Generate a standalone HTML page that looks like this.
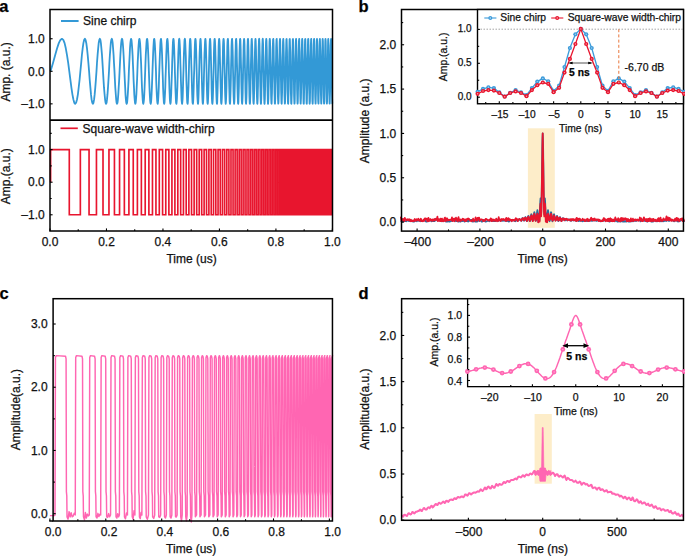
<!DOCTYPE html>
<html><head><meta charset="utf-8"><style>
html,body{margin:0;padding:0;background:#fff;width:685px;height:556px;overflow:hidden}
svg{display:block}
text{font-family:"Liberation Sans", sans-serif;stroke:#111;stroke-width:0.25px}
</style></head><body>
<svg width="685" height="556" viewBox="0 0 685 556">
<text x="-0.8" y="12.2" font-size="16.5" font-weight="bold" fill="#000" >a</text>
<polyline points="50.5,71.3 53.0,62.9 55.2,55.0 57.1,48.3 58.8,43.1 60.4,39.9 61.9,38.8 63.3,39.9 64.6,43.1 65.8,48.3 67.0,55.1 68.2,62.9 69.3,71.3 70.4,79.8 71.4,87.6 72.4,94.3 73.4,99.5 74.3,102.8 75.2,103.8 76.1,102.7 77.0,99.5 77.9,94.3 78.7,87.5 79.6,79.7 80.4,71.2 81.2,62.8 81.9,55.0 82.7,48.2 83.4,43.1 84.2,39.8 84.9,38.8 85.6,39.9 86.3,43.2 87.0,48.4 87.7,55.1 88.4,63.0 89.1,71.4 89.7,79.8 90.4,87.7 91.0,94.4 91.6,99.6 92.3,102.8 92.9,103.8 93.5,102.7 94.1,99.4 94.7,94.2 95.3,87.4 95.9,79.6 96.5,71.1 97.0,62.7 97.6,54.9 98.2,48.2 98.7,43.0 99.3,39.8 99.8,38.8 100.4,39.9 100.9,43.2 101.4,48.4 102.0,55.2 102.5,63.1 103.0,71.5 103.5,79.9 104.0,87.7 104.6,94.5 105.1,99.6 105.6,102.8 106.1,103.8 106.6,102.7 107.0,99.4 107.5,94.2 108.0,87.4 108.5,79.5 109.0,71.1 109.4,62.7 109.9,54.8 110.4,48.1 110.8,43.0 111.3,39.8 111.8,38.8 112.2,39.9 112.7,43.2 113.1,48.5 113.6,55.3 114.0,63.1 114.5,71.6 114.9,80.0 115.3,87.8 115.8,94.5 116.2,99.6 116.6,102.8 117.1,103.8 117.5,102.7 117.9,99.3 118.3,94.1 118.7,87.3 119.2,79.4 119.6,71.0 120.0,62.6 120.4,54.8 120.8,48.1 121.2,43.0 121.6,39.8 122.0,38.8 122.4,39.9 122.8,43.3 123.2,48.5 123.6,55.3 124.0,63.2 124.4,71.6 124.8,80.1 125.2,87.9 125.5,94.6 125.9,99.7 126.3,102.8 126.7,103.8 127.1,102.6 127.4,99.3 127.8,94.1 128.2,87.2 128.6,79.4 128.9,70.9 129.3,62.5 129.7,54.7 130.0,48.0 130.4,42.9 130.8,39.8 131.1,38.8 131.5,40.0 131.8,43.3 132.2,48.6 132.6,55.4 132.9,63.3 133.3,71.7 133.6,80.1 134.0,87.9 134.3,94.6 134.7,99.7 135.0,102.9 135.4,103.8 135.7,102.6 136.0,99.3 136.4,94.0 136.7,87.2 137.1,79.3 137.4,70.8 137.7,62.4 138.1,54.6 138.4,48.0 138.8,42.9 139.1,39.7 139.4,38.8 139.7,40.0 140.1,43.4 140.4,48.6 140.7,55.4 141.1,63.4 141.4,71.8 141.7,80.2 142.0,88.0 142.4,94.7 142.7,99.7 143.0,102.9 143.3,103.8 143.6,102.6 144.0,99.2 144.3,93.9 144.6,87.1 144.9,79.2 145.2,70.8 145.5,62.4 145.8,54.6 146.2,47.9 146.5,42.8 146.8,39.7 147.1,38.8 147.4,40.0 147.7,43.4 148.0,48.7 148.3,55.5 148.6,63.4 148.9,71.9 149.2,80.3 149.5,88.1 149.8,94.7 150.1,99.8 150.4,102.9 150.7,103.8 151.0,102.6 151.3,99.2 151.6,93.9 151.9,87.1 152.2,79.1 152.5,70.7 152.8,62.3 153.1,54.5 153.4,47.9 153.7,42.8 153.9,39.7 154.2,38.8 154.5,40.0 154.8,43.4 155.1,48.7 155.4,55.6 155.7,63.5 156.0,71.9 156.2,80.4 156.5,88.1 156.8,94.8 157.1,99.8 157.4,102.9 157.7,103.8 157.9,102.6 158.2,99.1 158.5,93.8 158.8,87.0 159.0,79.1 159.3,70.6 159.6,62.2 159.9,54.4 160.2,47.8 160.4,42.8 160.7,39.7 161.0,38.8 161.2,40.0 161.5,43.5 161.8,48.8 162.1,55.6 162.3,63.6 162.6,72.0 162.9,80.4 163.1,88.2 163.4,94.8 163.7,99.8 163.9,102.9 164.2,103.8 164.5,102.5 164.7,99.1 165.0,93.8 165.3,86.9 165.5,79.0 165.8,70.5 166.1,62.1 166.3,54.4 166.6,47.7 166.8,42.7 167.1,39.7 167.4,38.8 167.6,40.1 167.9,43.5 168.1,48.8 168.4,55.7 168.7,63.6 168.9,72.1 169.2,80.5 169.4,88.3 169.7,94.9 169.9,99.9 170.2,102.9 170.4,103.8 170.7,102.5 170.9,99.1 171.2,93.7 171.4,86.9 171.7,78.9 172.0,70.5 172.2,62.1 172.5,54.3 172.7,47.7 172.9,42.7 173.2,39.6 173.4,38.8 173.7,40.1 173.9,43.6 174.2,48.9 174.4,55.8 174.7,63.7 174.9,72.2 175.2,80.6 175.4,88.3 175.7,94.9 175.9,99.9 176.1,103.0 176.4,103.8 176.6,102.5 176.9,99.0 177.1,93.7 177.4,86.8 177.6,78.8 177.8,70.4 178.1,62.0 178.3,54.2 178.6,47.6 178.8,42.7 179.0,39.6 179.3,38.8 179.5,40.1 179.7,43.6 180.0,49.0 180.2,55.9 180.4,63.8 180.7,72.3 180.9,80.6 181.2,88.4 181.4,95.0 181.6,100.0 181.9,103.0 182.1,103.8 182.3,102.5 182.6,99.0 182.8,93.6 183.0,86.7 183.2,78.8 183.5,70.3 183.7,61.9 183.9,54.2 184.2,47.6 184.4,42.6 184.6,39.6 184.9,38.8 185.1,40.1 185.3,43.6 185.5,49.0 185.8,55.9 186.0,63.9 186.2,72.3 186.4,80.7 186.7,88.5 186.9,95.0 187.1,100.0 187.3,103.0 187.6,103.8 187.8,102.5 188.0,98.9 188.2,93.6 188.5,86.6 188.7,78.7 188.9,70.2 189.1,61.8 189.4,54.1 189.6,47.5 189.8,42.6 190.0,39.6 190.2,38.8 190.5,40.2 190.7,43.7 190.9,49.1 191.1,56.0 191.3,63.9 191.6,72.4 191.8,80.8 192.0,88.5 192.2,95.1 192.4,100.0 192.6,103.0 192.9,103.8 193.1,102.4 193.3,98.9 193.5,93.5 193.7,86.6 193.9,78.6 194.2,70.2 194.4,61.8 194.6,54.0 194.8,47.5 195.0,42.6 195.2,39.6 195.4,38.8 195.7,40.2 195.9,43.7 196.1,49.1 196.3,56.1 196.5,64.0 196.7,72.5 196.9,80.9 197.1,88.6 197.3,95.1 197.6,100.1 197.8,103.0 198.0,103.8 198.2,102.4 198.4,98.9 198.6,93.4 198.8,86.5 199.0,78.5 199.2,70.1 199.4,61.7 199.6,54.0 199.9,47.4 200.1,42.5 200.3,39.6 200.5,38.8 200.7,40.2 200.9,43.8 201.1,49.2 201.3,56.1 201.5,64.1 201.7,72.6 201.9,80.9 202.1,88.7 202.3,95.2 202.5,100.1 202.7,103.0 202.9,103.8 203.1,102.4 203.3,98.8 203.5,93.4 203.7,86.4 203.9,78.5 204.1,70.0 204.3,61.6 204.5,53.9 204.8,47.4 205.0,42.5 205.2,39.5 205.4,38.8 205.6,40.2 205.8,43.8 206.0,49.2 206.2,56.2 206.4,64.2 206.6,72.6 206.7,81.0 206.9,88.7 207.1,95.2 207.3,100.1 207.5,103.1 207.7,103.8 207.9,102.4 208.1,98.8 208.3,93.3 208.5,86.4 208.7,78.4 208.9,69.9 209.1,61.6 209.3,53.8 209.5,47.3 209.7,42.4 209.9,39.5 210.1,38.8 210.3,40.2 210.5,43.8 210.7,49.3 210.9,56.3 211.1,64.2 211.3,72.7 211.5,81.1 211.6,88.8 211.8,95.3 212.0,100.2 212.2,103.1 212.4,103.8 212.6,102.3 212.8,98.7 213.0,93.3 213.2,86.3 213.4,78.3 213.6,69.9 213.8,61.5 213.9,53.8 214.1,47.3 214.3,42.4 214.5,39.5 214.7,38.8 214.9,40.3 215.1,43.9 215.3,49.3 215.5,56.3 215.7,64.3 215.8,72.8 216.0,81.2 216.2,88.8 216.4,95.3 216.6,100.2 216.8,103.1 217.0,103.8 217.2,102.3 217.3,98.7 217.5,93.2 217.7,86.2 217.9,78.2 218.1,69.8 218.3,61.4 218.5,53.7 218.6,47.2 218.8,42.4 219.0,39.5 219.2,38.8 219.4,40.3 219.6,43.9 219.8,49.4 219.9,56.4 220.1,64.4 220.3,72.9 220.5,81.2 220.7,88.9 220.9,95.4 221.0,100.2 221.2,103.1 221.4,103.8 221.6,102.3 221.8,98.7 222.0,93.2 222.1,86.2 222.3,78.2 222.5,69.7 222.7,61.3 222.9,53.7 223.0,47.2 223.2,42.3 223.4,39.5 223.6,38.8 223.8,40.3 224.0,44.0 224.1,49.5 224.3,56.5 224.5,64.5 224.7,72.9 224.9,81.3 225.0,89.0 225.2,95.5 225.4,100.3 225.6,103.1 225.7,103.8 225.9,102.3 226.1,98.6 226.3,93.1 226.5,86.1 226.6,78.1 226.8,69.6 227.0,61.3 227.2,53.6 227.3,47.1 227.5,42.3 227.7,39.5 227.9,38.8 228.1,40.3 228.2,44.0 228.4,49.5 228.6,56.5 228.8,64.5 228.9,73.0 229.1,81.4 229.3,89.0 229.5,95.5 229.6,100.3 229.8,103.1 230.0,103.8 230.2,102.2 230.3,98.6 230.5,93.1 230.7,86.0 230.9,78.0 231.0,69.6 231.2,61.2 231.4,53.5 231.5,47.1 231.7,42.3 231.9,39.4 232.1,38.8 232.2,40.4 232.4,44.0 232.6,49.6 232.8,56.6 232.9,64.6 233.1,73.1 233.3,81.4 233.4,89.1 233.6,95.6 233.8,100.3 234.0,103.2 234.1,103.8 234.3,102.2 234.5,98.5 234.6,93.0 234.8,86.0 235.0,78.0 235.2,69.5 235.3,61.1 235.5,53.5 235.7,47.0 235.8,42.2 236.0,39.4 236.2,38.8 236.3,40.4 236.5,44.1 236.7,49.6 236.8,56.7 237.0,64.7 237.2,73.2 237.3,81.5 237.5,89.2 237.7,95.6 237.9,100.4 238.0,103.2 238.2,103.8 238.4,102.2 238.5,98.5 238.7,92.9 238.9,85.9 239.0,77.9 239.2,69.4 239.4,61.1 239.5,53.4 239.7,47.0 239.9,42.2 240.0,39.4 240.2,38.8 240.4,40.4 240.5,44.1 240.7,49.7 240.8,56.7 241.0,64.8 241.2,73.2 241.3,81.6 241.5,89.2 241.7,95.7 241.8,100.4 242.0,103.2 242.2,103.8 242.3,102.2 242.5,98.5 242.7,92.9 242.8,85.8 243.0,77.8 243.1,69.3 243.3,61.0 243.5,53.3 243.6,46.9 243.8,42.2 244.0,39.4 244.1,38.8 244.3,40.4 244.5,44.2 244.6,49.7 244.8,56.8 244.9,64.8 245.1,73.3 245.3,81.7 245.4,89.3 245.6,95.7 245.7,100.4 245.9,103.2 246.1,103.8 246.2,102.2 246.4,98.4 246.6,92.8 246.7,85.8 246.9,77.7 247.0,69.2 247.2,60.9 247.4,53.3 247.5,46.9 247.7,42.1 247.8,39.4 248.0,38.8 248.2,40.5 248.3,44.2 248.5,49.8 248.6,56.9 248.8,64.9 248.9,73.4 249.1,81.7 249.3,89.4 249.4,95.8 249.6,100.5 249.7,103.2 249.9,103.8 250.1,102.1 250.2,98.4 250.4,92.8 250.5,85.7 250.7,77.7 250.8,69.2 251.0,60.8 251.2,53.2 251.3,46.8 251.5,42.1 251.6,39.4 251.8,38.8 251.9,40.5 252.1,44.2 252.3,49.9 252.4,56.9 252.6,65.0 252.7,73.5 252.9,81.8 253.0,89.4 253.2,95.8 253.3,100.5 253.5,103.2 253.7,103.8 253.8,102.1 254.0,98.3 254.1,92.7 254.3,85.6 254.4,77.6 254.6,69.1 254.7,60.8 254.9,53.1 255.1,46.8 255.2,42.1 255.4,39.4 255.5,38.8 255.7,40.5 255.8,44.3 256.0,49.9 256.1,57.0 256.3,65.1 256.4,73.5 256.6,81.9 256.7,89.5 256.9,95.9 257.1,100.5 257.2,103.2 257.4,103.8 257.5,102.1 257.7,98.3 257.8,92.7 258.0,85.6 258.1,77.5 258.3,69.0 258.4,60.7 258.6,53.1 258.7,46.7 258.9,42.0 259.0,39.3 259.2,38.8 259.3,40.5 259.5,44.3 259.6,50.0 259.8,57.1 259.9,65.1 260.1,73.6 260.2,81.9 260.4,89.5 260.5,95.9 260.7,100.6 260.8,103.3 261.0,103.8 261.1,102.1 261.3,98.2 261.4,92.6 261.6,85.5 261.7,77.4 261.9,68.9 262.0,60.6 262.2,53.0 262.3,46.7 262.5,42.0 262.6,39.3 262.8,38.8 262.9,40.6 263.1,44.4 263.2,50.0 263.4,57.1 263.5,65.2 263.7,73.7 263.8,82.0 264.0,89.6 264.1,96.0 264.3,100.6 264.4,103.3 264.6,103.8 264.7,102.0 264.9,98.2 265.0,92.5 265.2,85.4 265.3,77.4 265.5,68.9 265.6,60.5 265.8,53.0 265.9,46.6 266.0,42.0 266.2,39.3 266.3,38.8 266.5,40.6 266.6,44.4 266.8,50.1 266.9,57.2 267.1,65.3 267.2,73.8 267.4,82.1 267.5,89.7 267.7,96.0 267.8,100.6 267.9,103.3 268.1,103.8 268.2,102.0 268.4,98.2 268.5,92.5 268.7,85.4 268.8,77.3 269.0,68.8 269.1,60.5 269.3,52.9 269.4,46.6 269.5,41.9 269.7,39.3 269.8,38.8 270.0,40.6 270.1,44.5 270.3,50.1 270.4,57.3 270.6,65.4 270.7,73.8 270.8,82.2 271.0,89.7 271.1,96.1 271.3,100.7 271.4,103.3 271.6,103.7 271.7,102.0 271.8,98.1 272.0,92.4 272.1,85.3 272.3,77.2 272.4,68.7 272.6,60.4 272.7,52.8 272.8,46.5 273.0,41.9 273.1,39.3 273.3,38.9 273.4,40.6 273.6,44.5 273.7,50.2 273.8,57.3 274.0,65.4 274.1,73.9 274.3,82.2 274.4,89.8 274.6,96.1 274.7,100.7 274.8,103.3 275.0,103.7 275.1,102.0 275.3,98.1 275.4,92.4 275.5,85.2 275.7,77.1 275.8,68.6 276.0,60.3 276.1,52.8 276.2,46.5 276.4,41.9 276.5,39.3 276.7,38.9 276.8,40.7 276.9,44.5 277.1,50.3 277.2,57.4 277.4,65.5 277.5,74.0 277.6,82.3 277.8,89.9 277.9,96.2 278.1,100.7 278.2,103.3 278.3,103.7 278.5,101.9 278.6,98.0 278.8,92.3 278.9,85.2 279.0,77.1 279.2,68.6 279.3,60.3 279.5,52.7 279.6,46.4 279.7,41.8 279.9,39.3 280.0,38.9 280.2,40.7 280.3,44.6 280.4,50.3 280.6,57.5 280.7,65.6 280.8,74.1 281.0,82.4 281.1,89.9 281.3,96.2 281.4,100.8 281.5,103.3 281.7,103.7 281.8,101.9 281.9,98.0 282.1,92.2 282.2,85.1 282.4,77.0 282.5,68.5 282.6,60.2 282.8,52.6 282.9,46.4 283.0,41.8 283.2,39.2 283.3,38.9 283.4,40.7 283.6,44.6 283.7,50.4 283.9,57.6 284.0,65.7 284.1,74.2 284.3,82.4 284.4,90.0 284.5,96.2 284.7,100.8 284.8,103.4 284.9,103.7 285.1,101.9 285.2,97.9 285.4,92.2 285.5,85.0 285.6,76.9 285.8,68.4 285.9,60.1 286.0,52.6 286.2,46.3 286.3,41.8 286.4,39.2 286.6,38.9 286.7,40.7 286.8,44.7 287.0,50.4 287.1,57.6 287.2,65.7 287.4,74.2 287.5,82.5 287.6,90.0 287.8,96.3 287.9,100.8 288.0,103.4 288.2,103.7 288.3,101.8 288.4,97.9 288.6,92.1 288.7,84.9 288.8,76.8 289.0,68.3 289.1,60.0 289.2,52.5 289.4,46.3 289.5,41.7 289.6,39.2 289.8,38.9 289.9,40.8 290.0,44.7 290.2,50.5 290.3,57.7 290.4,65.8 290.6,74.3 290.7,82.6 290.8,90.1 291.0,96.3 291.1,100.9 291.2,103.4 291.4,103.7 291.5,101.8 291.6,97.9 291.8,92.1 291.9,84.9 292.0,76.8 292.2,68.3 292.3,60.0 292.4,52.5 292.6,46.2 292.7,41.7 292.8,39.2 293.0,38.9 293.1,40.8 293.2,44.8 293.3,50.6 293.5,57.8 293.6,65.9 293.7,74.4 293.9,82.7 294.0,90.2 294.1,96.4 294.3,100.9 294.4,103.4 294.5,103.7 294.7,101.8 294.8,97.8 294.9,92.0 295.0,84.8 295.2,76.7 295.3,68.2 295.4,59.9 295.6,52.4 295.7,46.2 295.8,41.7 296.0,39.2 296.1,38.9 296.2,40.8 296.3,44.8 296.5,50.6 296.6,57.8 296.7,66.0 296.9,74.5 297.0,82.7 297.1,90.2 297.3,96.4 297.4,100.9 297.5,103.4 297.6,103.7 297.8,101.8 297.9,97.8 298.0,92.0 298.2,84.7 298.3,76.6 298.4,68.1 298.5,59.8 298.7,52.3 298.8,46.1 298.9,41.6 299.1,39.2 299.2,38.9 299.3,40.8 299.4,44.9 299.6,50.7 299.7,57.9 299.8,66.0 300.0,74.5 300.1,82.8 300.2,90.3 300.3,96.5 300.5,101.0 300.6,103.4 300.7,103.7 300.8,101.7 301.0,97.7 301.1,91.9 301.2,84.7 301.4,76.5 301.5,68.0 301.6,59.8 301.7,52.3 301.9,46.1 302.0,41.6 302.1,39.2 302.2,38.9 302.4,40.9 302.5,44.9 302.6,50.7 302.7,58.0 302.9,66.1 303.0,74.6 303.1,82.9 303.3,90.4 303.4,96.5 303.5,101.0 303.6,103.4 303.8,103.7 303.9,101.7 304.0,97.7 304.1,91.8 304.3,84.6 304.4,76.5 304.5,68.0 304.6,59.7 304.8,52.2 304.9,46.0 305.0,41.6 305.1,39.2 305.3,38.9 305.4,40.9 305.5,44.9 305.6,50.8 305.8,58.0 305.9,66.2 306.0,74.7 306.1,82.9 306.3,90.4 306.4,96.6 306.5,101.0 306.6,103.4 306.8,103.7 306.9,101.7 307.0,97.6 307.1,91.8 307.3,84.5 307.4,76.4 307.5,67.9 307.6,59.6 307.8,52.1 307.9,46.0 308.0,41.6 308.1,39.1 308.3,38.9 308.4,40.9 308.5,45.0 308.6,50.9 308.8,58.1 308.9,66.3 309.0,74.8 309.1,83.0 309.2,90.5 309.4,96.6 309.5,101.1 309.6,103.5 309.7,103.7 309.9,101.7 310.0,97.6 310.1,91.7 310.2,84.5 310.4,76.3 310.5,67.8 310.6,59.5 310.7,52.1 310.8,45.9 311.0,41.5 311.1,39.1 311.2,38.9 311.3,41.0 311.5,45.0 311.6,50.9 311.7,58.2 311.8,66.3 311.9,74.8 312.1,83.1 312.2,90.5 312.3,96.7 312.4,101.1 312.6,103.5 312.7,103.7 312.8,101.6 312.9,97.5 313.0,91.7 313.2,84.4 313.3,76.2 313.4,67.7 313.5,59.5 313.7,52.0 313.8,45.9 313.9,41.5 314.0,39.1 314.1,38.9 314.3,41.0 314.4,45.1 314.5,51.0 314.6,58.2 314.7,66.4 314.9,74.9 315.0,83.2 315.1,90.6 315.2,96.7 315.4,101.1 315.5,103.5 315.6,103.6 315.7,101.6 315.8,97.5 316.0,91.6 316.1,84.3 316.2,76.2 316.3,67.7 316.4,59.4 316.6,52.0 316.7,45.8 316.8,41.5 316.9,39.1 317.0,39.0 317.2,41.0 317.3,45.1 317.4,51.0 317.5,58.3 317.6,66.5 317.8,75.0 317.9,83.2 318.0,90.7 318.1,96.8 318.2,101.2 318.4,103.5 318.5,103.6 318.6,101.6 318.7,97.5 318.8,91.5 318.9,84.3 319.1,76.1 319.2,67.6 319.3,59.3 319.4,51.9 319.5,45.8 319.7,41.4 319.8,39.1 319.9,39.0 320.0,41.0 320.1,45.2 320.3,51.1 320.4,58.4 320.5,66.6 320.6,75.1 320.7,83.3 320.8,90.7 321.0,96.8 321.1,101.2 321.2,103.5 321.3,103.6 321.4,101.5 321.6,97.4 321.7,91.5 321.8,84.2 321.9,76.0 322.0,67.5 322.1,59.3 322.3,51.8 322.4,45.8 322.5,41.4 322.6,39.1 322.7,39.0 322.9,41.1 323.0,45.2 323.1,51.1 323.2,58.5 323.3,66.6 323.4,75.1 323.6,83.4 323.7,90.8 323.8,96.9 323.9,101.2 324.0,103.5 324.1,103.6 324.3,101.5 324.4,97.4 324.5,91.4 324.6,84.1 324.7,75.9 324.8,67.4 325.0,59.2 325.1,51.8 325.2,45.7 325.3,41.4 325.4,39.1 325.5,39.0 325.7,41.1 325.8,45.3 325.9,51.2 326.0,58.5 326.1,66.7 326.2,75.2 326.4,83.4 326.5,90.8 326.6,96.9 326.7,101.2 326.8,103.5 326.9,103.6 327.1,101.5 327.2,97.3 327.3,91.4 327.4,84.0 327.5,75.9 327.6,67.4 327.8,59.1 327.9,51.7 328.0,45.7 328.1,41.3 328.2,39.1 328.3,39.0 328.4,41.1 328.6,45.3 328.7,51.3 328.8,58.6 328.9,66.8 329.0,75.3 329.1,83.5 329.2,90.9 329.4,97.0 329.5,101.3 329.6,103.5 329.7,103.6 329.8,101.5 329.9,97.3 330.1,91.3 330.2,84.0 330.3,75.8 330.4,67.3 330.5,59.1 330.6,51.7 330.7,45.6 330.9,41.3 331.0,39.1 331.1,39.0 331.2,41.1 331.3,45.4 331.4,51.3 331.5,58.7 331.7,66.9 331.8,75.4 331.9,83.6 332.0,91.0 332.1,97.0 332.2,101.3 332.3,103.5 332.4,103.6" fill="none" stroke="#3399d6" stroke-width="1.8" stroke-linejoin="round" />
<polyline points="50.60,182.20 50.60,149.62 69.29,149.62 69.29,214.78 80.35,214.78 80.35,149.62 89.05,149.62 89.05,214.78 96.45,214.78 96.45,149.62 103.01,149.62 103.01,214.78 108.96,214.78 108.96,149.62 114.44,149.62 114.44,214.78 119.55,214.78 119.55,149.62 124.36,149.62 124.36,214.78 128.91,214.78 128.91,149.62 133.25,149.62 133.25,214.78 137.39,214.78 137.39,149.62 141.37,149.62 141.37,214.78 145.20,214.78 145.20,149.62 148.89,149.62 148.89,214.78 152.47,214.78 152.47,149.62 155.94,149.62 155.94,214.78 159.30,214.78 159.30,149.62 162.58,149.62 162.58,214.78 165.77,214.78 165.77,149.62 168.88,149.62 168.88,214.78 171.93,214.78 171.93,149.62 174.90,149.62 174.90,214.78 177.81,214.78 177.81,149.62 180.66,149.62 180.66,214.78 183.45,214.78 183.45,149.62 186.19,149.62 186.19,214.78 188.88,214.78 188.88,149.62 191.53,149.62 191.53,214.78 194.13,214.78 194.13,149.62 196.68,149.62 196.68,214.78 199.20,214.78 199.20,149.62 201.68,149.62 201.68,214.78 204.12,214.78 204.12,149.62 206.52,149.62 206.52,214.78 208.89,214.78 208.89,149.62 211.23,149.62 211.23,214.78 213.53,214.78 213.53,149.62 215.81,149.62 215.81,214.78 218.06,214.78 218.06,149.62 220.28,149.62 220.28,214.78 222.47,214.78 222.47,149.62 224.64,149.62 224.64,214.78 226.78,214.78 226.78,149.62 228.90,149.62 228.90,214.78 230.99,214.78 230.99,149.62 233.06,149.62 233.06,214.78 235.12,214.78 235.12,149.62 237.14,149.62 237.14,214.78 239.15,214.78 239.15,149.62 241.14,149.62 241.14,214.78 243.11,214.78 243.11,149.62 245.06,149.62 245.06,214.78 246.99,214.78 246.99,149.62 248.91,149.62 248.91,214.78 250.81,214.78 250.81,149.62 252.69,149.62 252.69,214.78 254.55,214.78 254.55,149.62 256.40,149.62 256.40,214.78 258.23,214.78 258.23,149.62 260.05,149.62 260.05,214.78 261.85,214.78 261.85,149.62 263.64,149.62 263.64,214.78 265.41,214.78 265.41,149.62 267.17,149.62 267.17,214.78 268.92,214.78 268.92,149.62 270.65,149.62 270.65,214.78 272.38,214.78 272.38,149.62 274.08,149.62 274.08,214.78 275.78,214.78 275.78,149.62 277.46,149.62 277.46,214.78 279.14,214.78 279.14,149.62 280.80,149.62 280.80,214.78 282.45,214.78 282.45,149.62 284.08,149.62 284.08,214.78 285.71,214.78 285.71,149.62 287.33,149.62 287.33,214.78 288.93,214.78 288.93,149.62 290.53,149.62 290.53,214.78 292.12,214.78 292.12,149.62 293.69,149.62 293.69,214.78 295.26,214.78 295.26,149.62 296.82,149.62 296.82,214.78 298.36,214.78 298.36,149.62 299.90,149.62 299.90,214.78 301.43,214.78 301.43,149.62 302.95,149.62 302.95,214.78 304.46,214.78 304.46,149.62 305.97,149.62 305.97,214.78 307.46,214.78 307.46,149.62 308.95,149.62 308.95,214.78 310.43,214.78 310.43,149.62 311.90,149.62 311.90,214.78 313.36,214.78 313.36,149.62 314.82,149.62 314.82,214.78 316.26,214.78 316.26,149.62 317.70,149.62 317.70,214.78 319.14,214.78 319.14,149.62 320.56,149.62 320.56,214.78 321.98,214.78 321.98,149.62 323.39,149.62 323.39,214.78 324.79,214.78 324.79,149.62 326.19,149.62 326.19,214.78 327.58,214.78 327.58,149.62 328.96,149.62 328.96,214.78 330.34,214.78 330.34,149.62 331.71,149.62 331.71,214.78 332.45,214.78" fill="none" stroke="#e8152e" stroke-width="1.65" stroke-linejoin="miter" />
<rect x="50" y="9.5" width="282.5" height="221.5" fill="none" stroke="#000" stroke-width="1.5"/>
<line x1="50" y1="120.1" x2="332.5" y2="120.1" stroke="#000" stroke-width="1.6" />
<line x1="61" y1="21" x2="78.6" y2="21" stroke="#3399d6" stroke-width="2" />
<text x="83.1" y="25.1" font-size="12" fill="#111" >Sine chirp</text>
<line x1="60.5" y1="128.3" x2="77.8" y2="128.3" stroke="#e8152e" stroke-width="1.7" />
<text x="82.6" y="132.6" font-size="12" fill="#111" >Square-wave width-chirp</text>
<line x1="50" y1="38.75" x2="52.6" y2="38.75" stroke="#000" stroke-width="1.1" />
<line x1="50" y1="71.3" x2="52.6" y2="71.3" stroke="#000" stroke-width="1.1" />
<line x1="50" y1="103.85" x2="52.6" y2="103.85" stroke="#000" stroke-width="1.1" />
<text x="44.7" y="42.95" font-size="12" text-anchor="end" fill="#111" >1.0</text>
<text x="44.7" y="75.5" font-size="12" text-anchor="end" fill="#111" >0.0</text>
<text x="44.7" y="108.05" font-size="12" text-anchor="end" fill="#111" >–1.0</text>
<line x1="50" y1="149.62" x2="52.6" y2="149.62" stroke="#000" stroke-width="1.1" />
<line x1="50" y1="182.2" x2="52.6" y2="182.2" stroke="#000" stroke-width="1.1" />
<line x1="50" y1="214.78" x2="52.6" y2="214.78" stroke="#000" stroke-width="1.1" />
<line x1="50" y1="133.33" x2="51.7" y2="133.33" stroke="#000" stroke-width="1.1" />
<line x1="50" y1="165.91" x2="51.7" y2="165.91" stroke="#000" stroke-width="1.1" />
<line x1="50" y1="198.49" x2="51.7" y2="198.49" stroke="#000" stroke-width="1.1" />
<text x="44.7" y="153.82" font-size="12" text-anchor="end" fill="#111" >1.0</text>
<text x="44.7" y="186.4" font-size="12" text-anchor="end" fill="#111" >0.0</text>
<text x="44.7" y="218.98" font-size="12" text-anchor="end" fill="#111" >–1.0</text>
<line x1="50" y1="231" x2="50" y2="228.4" stroke="#000" stroke-width="1.1" />
<line x1="106.48" y1="231" x2="106.48" y2="228.4" stroke="#000" stroke-width="1.1" />
<line x1="162.96" y1="231" x2="162.96" y2="228.4" stroke="#000" stroke-width="1.1" />
<line x1="219.44" y1="231" x2="219.44" y2="228.4" stroke="#000" stroke-width="1.1" />
<line x1="275.92" y1="231" x2="275.92" y2="228.4" stroke="#000" stroke-width="1.1" />
<line x1="332.4" y1="231" x2="332.4" y2="228.4" stroke="#000" stroke-width="1.1" />
<line x1="78.24" y1="231" x2="78.24" y2="229.3" stroke="#000" stroke-width="1.1" />
<line x1="134.72" y1="231" x2="134.72" y2="229.3" stroke="#000" stroke-width="1.1" />
<line x1="191.2" y1="231" x2="191.2" y2="229.3" stroke="#000" stroke-width="1.1" />
<line x1="247.68" y1="231" x2="247.68" y2="229.3" stroke="#000" stroke-width="1.1" />
<line x1="304.16" y1="231" x2="304.16" y2="229.3" stroke="#000" stroke-width="1.1" />
<text x="50" y="245.6" font-size="12" text-anchor="middle" fill="#111" >0.0</text>
<text x="106.48" y="245.6" font-size="12" text-anchor="middle" fill="#111" >0.2</text>
<text x="162.96" y="245.6" font-size="12" text-anchor="middle" fill="#111" >0.4</text>
<text x="219.44" y="245.6" font-size="12" text-anchor="middle" fill="#111" >0.6</text>
<text x="275.92" y="245.6" font-size="12" text-anchor="middle" fill="#111" >0.8</text>
<text x="332.4" y="245.6" font-size="12" text-anchor="middle" fill="#111" >1.0</text>
<text x="191.6" y="263" font-size="12" text-anchor="middle" fill="#111" >Time (us)</text>
<text transform="translate(9.9,71.9) rotate(-90)" font-size="12" text-anchor="middle" fill="#111" >Amp. (a.u.)</text>
<text transform="translate(9.9,176.2) rotate(-90)" font-size="12" text-anchor="middle" fill="#111" >Amp.(a.u.)</text>
<text x="358.4" y="12.2" font-size="16.5" font-weight="bold" fill="#000" >b</text>
<rect x="527.9" y="128.3" width="26.9" height="99.5" fill="#fdedc9"/>
<polyline points="400.8,220.9 401.3,221.4 401.8,220.9 402.3,221.7 402.8,220.8 403.3,221.0 403.8,221.1 404.3,221.2 404.8,221.1 405.3,221.0 405.8,221.2 406.3,221.3 406.8,220.7 407.3,220.7 407.8,220.2 408.3,220.8 408.8,221.1 409.3,220.6 409.8,220.5 410.3,221.2 410.8,220.9 411.3,220.3 411.8,221.2 412.3,221.4 412.8,221.2 413.3,221.7 413.8,221.7 414.3,221.7 414.8,220.8 415.3,220.3 415.8,220.3 416.3,220.7 416.8,221.3 417.4,220.5 417.9,220.2 418.4,220.8 418.9,220.5 419.4,220.8 419.9,220.7 420.4,220.9 420.9,221.3 421.4,220.5 421.9,221.0 422.4,221.1 422.9,221.0 423.4,220.6 423.9,220.5 424.4,220.4 424.9,220.0 425.4,220.5 425.9,221.5 426.4,221.7 426.9,221.6 427.4,221.2 427.9,221.5 428.4,221.3 428.9,220.5 429.4,219.8 429.9,219.4 430.4,220.0 430.9,220.9 431.4,221.1 431.9,221.4 432.4,220.6 432.9,220.6 433.4,221.1 433.9,221.0 434.4,221.1 434.9,220.9 435.4,219.6 435.9,218.7 436.4,219.5 436.9,220.0 437.4,220.6 437.9,220.5 438.5,219.8 439.0,220.5 439.5,220.7 440.0,220.7 440.5,220.5 441.0,220.6 441.5,220.8 442.0,221.4 442.5,220.9 443.0,220.3 443.5,221.2 444.0,221.1 444.5,220.1 445.0,220.2 445.5,220.6 446.0,221.7 446.5,221.4 447.0,221.7 447.5,221.6 448.0,220.7 448.5,220.4 449.0,221.6 449.5,221.7 450.0,221.4 450.5,221.3 451.0,221.1 451.5,219.8 452.0,220.2 452.5,221.0 453.0,220.7 453.5,219.3 454.0,219.3 454.5,220.5 455.0,220.5 455.5,220.3 456.0,221.3 456.5,221.1 457.0,220.4 457.5,221.0 458.0,221.5 458.5,221.7 459.1,221.4 459.6,220.8 460.1,221.4 460.6,221.6 461.1,221.1 461.6,220.0 462.1,220.5 462.6,221.1 463.1,220.8 463.6,220.6 464.1,221.0 464.6,221.7 465.1,221.1 465.6,220.8 466.1,220.7 466.6,221.2 467.1,220.7 467.6,221.2 468.1,221.6 468.6,220.6 469.1,220.8 469.6,220.8 470.1,220.6 470.6,220.1 471.1,219.8 471.6,219.9 472.1,220.6 472.6,221.6 473.1,221.7 473.6,221.3 474.1,221.3 474.6,220.8 475.1,221.0 475.6,221.6 476.1,221.7 476.6,221.6 477.1,221.6 477.6,221.0 478.1,220.3 478.6,220.2 479.1,221.2 479.6,221.0 480.2,220.0 480.7,220.1 481.2,221.0 481.7,221.6 482.2,221.7 482.7,221.1 483.2,220.8 483.7,219.9 484.2,220.4 484.7,220.9 485.2,221.6 485.7,221.6 486.2,221.5 486.7,221.4 487.2,221.0 487.7,220.7 488.2,220.5 488.7,220.5 489.2,221.3 489.7,220.9 490.2,220.4 490.7,220.0 491.2,220.6 491.7,220.9 492.2,221.2 492.7,220.7 493.2,220.7 493.7,221.2 494.2,221.2 494.7,220.9 495.2,220.8 495.7,221.2 496.2,220.7 496.7,220.5 497.2,219.6 497.7,219.8 498.2,220.9 498.7,220.8 499.2,219.5 499.7,219.9 500.2,220.5 500.7,221.0 501.3,220.8 501.8,220.3 502.3,220.5 502.8,220.9 503.3,220.3 503.8,220.6 504.3,220.8 504.8,220.5 505.3,220.6 505.8,220.6 506.3,220.9 506.8,221.1 507.3,220.6 507.8,220.6 508.3,221.1 508.8,221.6 509.3,221.5 509.8,220.9 510.3,220.3 510.8,220.2 511.3,220.3 511.8,220.9 512.3,219.9 512.8,219.9 513.3,219.9 513.8,220.1 514.3,221.0 514.8,221.0 515.3,221.3 515.8,220.2 516.3,219.4 516.8,219.7 517.3,220.8 517.8,220.6 518.3,220.6 518.8,219.8 519.3,218.8 519.8,219.3 520.3,220.1 520.8,220.3 521.3,220.9 521.9,219.1 522.4,218.0 522.9,218.7 523.4,220.5 523.9,219.9 524.0,220.3 524.2,220.6 524.3,220.7 524.5,220.1 524.6,219.4 524.8,218.6 525.0,217.9 525.1,217.4 525.3,217.1 525.4,217.0 525.6,217.2 525.7,217.6 525.9,218.2 526.1,218.9 526.2,219.7 526.4,220.4 526.5,220.2 526.7,220.7 526.8,220.8 527.0,220.7 527.2,221.1 527.3,220.5 527.5,219.7 527.6,218.7 527.8,217.8 527.9,216.9 528.1,216.3 528.3,215.9 528.4,215.8 528.6,216.0 528.7,216.5 528.9,217.3 529.0,218.2 529.2,219.2 529.4,220.1 529.5,220.8 529.7,220.6 529.8,220.7 530.0,221.2 530.1,220.0 530.3,220.2 530.5,219.1 530.6,218.0 530.8,216.8 530.9,215.7 531.1,214.8 531.2,214.3 531.4,214.2 531.6,214.5 531.7,215.1 531.9,216.1 532.0,217.3 532.2,218.5 532.3,219.7 532.5,220.7 532.7,221.1 532.8,220.9 533.0,220.2 533.1,220.5 533.3,219.8 533.4,218.5 533.6,217.0 533.8,215.5 533.9,214.1 534.1,213.0 534.2,212.4 534.4,212.2 534.5,212.5 534.7,213.4 534.9,214.6 535.0,216.1 535.2,217.7 535.3,219.2 535.5,220.5 535.6,220.7 535.8,220.6 535.9,220.8 536.1,220.6 536.3,219.3 536.4,217.6 536.6,215.7 536.7,215.9 536.9,214.0 537.0,212.2 537.2,211.1 537.4,210.0 537.5,210.6 537.7,211.1 537.8,213.9 538.0,216.8 538.1,219.4 538.3,222.1 538.5,219.7 538.6,217.2 538.8,215.4 538.9,213.7 539.1,215.2 539.2,216.8 539.4,218.6 539.6,220.3 539.7,215.7 539.9,211.1 540.0,206.8 540.2,202.6 540.3,200.5 540.5,198.3 540.7,200.2 540.8,202.1 541.0,208.4 541.1,214.7 541.3,211.3 541.4,207.9 541.6,195.7 541.8,183.4 541.9,170.9 542.1,158.4 542.2,149.5 542.4,140.5 542.5,137.0 542.7,133.4 542.9,137.0 543.0,140.5 543.2,149.5 543.3,158.4 543.5,170.9 543.6,183.4 543.8,195.7 544.0,207.9 544.1,211.3 544.3,214.7 544.4,208.4 544.6,202.1 544.7,200.2 544.9,198.3 545.1,200.5 545.2,202.6 545.4,206.8 545.5,211.1 545.7,215.7 545.8,220.3 546.0,218.6 546.2,216.8 546.3,215.2 546.5,213.7 546.6,215.4 546.8,217.2 546.9,219.7 547.1,222.1 547.3,219.4 547.4,216.8 547.6,213.9 547.7,211.1 547.9,210.6 548.0,210.0 548.2,211.1 548.4,212.2 548.5,214.0 548.7,215.9 548.8,215.7 549.0,217.6 549.1,219.3 549.3,220.6 549.5,221.3 549.6,220.5 549.8,220.5 549.9,220.5 550.1,219.2 550.2,217.7 550.4,216.1 550.6,214.6 550.7,213.4 550.9,212.5 551.0,212.2 551.2,212.4 551.3,213.0 551.5,214.1 551.6,215.5 551.8,217.0 552.0,218.5 552.1,219.8 552.3,220.8 552.4,221.5 552.6,221.0 552.7,220.2 552.9,220.1 553.1,219.7 553.2,218.5 553.4,217.3 553.5,216.1 553.7,215.1 553.8,214.5 554.0,214.2 554.2,214.3 554.3,214.8 554.5,215.7 554.6,216.8 554.8,218.0 554.9,219.1 555.1,220.2 555.3,219.3 555.4,219.1 555.6,220.2 555.7,220.4 555.9,220.0 556.0,220.0 556.2,219.2 556.4,218.2 556.5,217.3 556.7,216.5 556.8,216.0 557.0,215.8 557.1,215.9 557.3,216.3 557.5,216.9 557.6,217.8 557.8,218.7 557.9,219.7 558.1,220.5 558.2,221.1 558.4,220.9 558.6,220.4 558.7,220.0 558.9,220.4 559.0,220.4 559.2,219.7 559.3,218.9 559.5,218.2 559.7,217.6 559.8,217.2 560.0,217.0 560.1,217.1 560.3,217.4 560.4,217.9 560.6,218.6 560.8,219.4 560.9,220.1 561.1,220.7 561.2,220.8 561.4,219.7 561.5,219.6 562.0,220.6 562.5,218.7 563.0,218.0 563.5,219.1 564.1,219.4 564.6,220.1 565.1,220.5 565.6,219.3 566.1,218.8 566.6,219.8 567.1,220.3 567.6,220.4 568.1,219.4 568.6,219.7 569.1,219.4 569.6,220.2 570.1,220.7 570.6,220.2 571.1,220.9 571.6,220.1 572.1,219.9 572.6,220.2 573.1,220.4 573.6,220.2 574.1,220.3 574.6,220.4 575.1,220.3 575.6,220.3 576.1,221.0 576.6,219.9 577.1,218.7 577.6,220.1 578.1,220.6 578.6,221.1 579.1,220.8 579.6,220.8 580.1,220.4 580.6,220.8 581.1,220.8 581.6,220.4 582.1,220.8 582.6,221.3 583.1,221.1 583.6,221.0 584.1,220.7 584.7,220.7 585.2,220.8 585.7,220.7 586.2,221.1 586.7,220.8 587.2,221.2 587.7,220.2 588.2,220.4 588.7,220.9 589.2,221.1 589.7,220.6 590.2,220.7 590.7,220.6 591.2,220.3 591.7,220.8 592.2,220.8 592.7,220.3 593.2,220.1 593.7,220.5 594.2,220.6 594.7,220.5 595.2,220.0 595.7,219.9 596.2,220.9 596.7,221.0 597.2,220.6 597.7,220.1 598.2,219.8 598.7,220.4 599.2,220.4 599.7,220.3 600.2,221.3 600.7,221.5 601.2,221.1 601.7,220.8 602.2,220.7 602.7,220.6 603.2,220.0 603.7,220.8 604.2,220.7 604.7,220.0 605.2,220.1 605.8,220.5 606.3,220.3 606.8,220.2 607.3,220.4 607.8,220.5 608.3,221.1 608.8,221.2 609.3,221.7 609.8,221.6 610.3,221.3 610.8,220.4 611.3,220.7 611.8,220.8 612.3,221.2 612.8,221.1 613.3,221.1 613.8,221.1 614.3,220.8 614.8,221.3 615.3,220.2 615.8,219.4 616.3,220.7 616.8,221.2 617.3,221.6 617.8,221.4 618.3,221.6 618.8,220.9 619.3,221.3 619.8,221.6 620.3,221.6 620.8,221.7 621.3,221.1 621.8,220.5 622.3,221.1 622.8,221.6 623.3,221.5 623.8,221.4 624.3,221.7 624.8,220.9 625.3,221.0 625.8,221.6 626.3,221.0 626.9,221.5 627.4,221.0 627.9,220.6 628.4,221.6 628.9,221.6 629.4,221.6 629.9,221.7 630.4,221.2 630.9,221.2 631.4,221.3 631.9,221.2 632.4,221.2 632.9,221.3 633.4,220.8 633.9,221.0 634.4,221.0 634.9,220.3 635.4,221.0 635.9,220.8 636.4,221.0 636.9,220.7 637.4,220.3 637.9,220.0 638.4,220.0 638.9,220.4 639.4,219.3 639.9,220.2 640.4,221.4 640.9,221.2 641.4,219.5 641.9,219.4 642.4,220.3 642.9,220.1 643.4,219.9 643.9,220.6 644.4,221.0 644.9,220.7 645.4,220.4 645.9,220.8 646.4,221.3 646.9,221.0 647.5,221.7 648.0,221.3 648.5,220.2 649.0,220.4 649.5,220.6 650.0,220.5 650.5,220.2 651.0,221.0 651.5,221.7 652.0,221.7 652.5,221.7 653.0,221.7 653.5,220.2 654.0,220.0 654.5,220.8 655.0,220.9 655.5,220.6 656.0,220.4 656.5,221.2 657.0,221.5 657.5,221.3 658.0,220.8 658.5,220.7 659.0,220.8 659.5,220.7 660.0,221.2 660.5,221.2 661.0,221.4 661.5,221.2 662.0,220.4 662.5,220.9 663.0,221.4 663.5,221.2 664.0,221.2 664.5,220.5 665.0,220.0 665.5,220.3 666.0,221.2 666.5,220.7 667.0,219.9 667.5,220.3 668.0,219.8 668.6,220.0 669.1,221.0 669.6,220.2 670.1,220.0 670.6,219.8 671.1,219.6 671.6,220.2 672.1,220.5 672.6,220.5 673.1,220.8 673.6,221.0 674.1,221.4 674.6,220.3 675.1,220.6 675.6,220.5 676.1,220.5 676.6,220.6 677.1,220.7 677.6,221.1 678.1,221.7 678.6,221.2 679.1,220.5 679.6,221.3 680.1,221.1 680.6,219.6 681.1,219.4 681.6,219.7 682.1,220.4 682.6,220.5 683.1,220.2 683.6,220.4 684.1,221.0 684.6,221.7" fill="none" stroke="#2b6c9e" stroke-width="1.7" stroke-linejoin="round" />
<polyline points="400.8,216.7 401.3,220.5 401.8,220.3 402.3,220.5 402.8,218.8 403.3,220.0 403.8,219.2 404.3,221.2 404.8,217.9 405.3,219.4 405.8,219.2 406.3,220.1 406.8,220.4 407.3,219.5 407.8,219.1 408.3,220.2 408.8,220.1 409.3,219.3 409.8,220.7 410.3,221.2 410.8,219.6 411.3,220.7 411.8,221.2 412.3,220.9 412.8,220.5 413.3,221.2 413.8,221.2 414.3,219.9 414.8,219.0 415.3,220.2 415.8,220.8 416.3,219.6 416.8,219.2 417.4,220.3 417.9,219.4 418.4,218.8 418.9,220.2 419.4,220.8 419.9,219.6 420.4,219.7 420.9,218.8 421.4,221.2 421.9,220.7 422.4,220.9 422.9,221.2 423.4,219.9 423.9,219.4 424.4,220.7 424.9,218.5 425.4,219.0 425.9,218.4 426.4,219.5 426.9,219.0 427.4,221.2 427.9,219.3 428.4,217.8 428.9,221.2 429.4,219.6 429.9,220.2 430.4,219.1 430.9,220.4 431.4,220.0 431.9,219.6 432.4,220.9 432.9,219.3 433.4,220.1 433.9,219.5 434.4,220.5 434.9,218.8 435.4,219.3 435.9,220.1 436.4,219.3 436.9,218.6 437.4,216.6 437.9,221.2 438.5,219.0 439.0,219.5 439.5,220.1 440.0,221.0 440.5,218.7 441.0,221.2 441.5,219.4 442.0,218.6 442.5,221.2 443.0,220.4 443.5,221.2 444.0,219.7 444.5,218.3 445.0,217.6 445.5,221.2 446.0,220.6 446.5,219.2 447.0,218.2 447.5,219.5 448.0,220.5 448.5,219.7 449.0,220.0 449.5,220.2 450.0,219.7 450.5,219.6 451.0,219.6 451.5,220.1 452.0,217.5 452.5,221.2 453.0,219.4 453.5,218.7 454.0,220.2 454.5,221.2 455.0,218.5 455.5,219.3 456.0,217.7 456.5,219.9 457.0,220.5 457.5,221.2 458.0,218.5 458.5,217.2 459.1,220.8 459.6,220.7 460.1,219.4 460.6,220.9 461.1,220.3 461.6,220.4 462.1,219.7 462.6,218.8 463.1,219.6 463.6,219.0 464.1,220.4 464.6,219.7 465.1,221.2 465.6,221.2 466.1,219.2 466.6,220.6 467.1,219.3 467.6,218.8 468.1,218.5 468.6,219.0 469.1,218.9 469.6,220.1 470.1,220.7 470.6,220.8 471.1,220.5 471.6,221.2 472.1,220.6 472.6,220.1 473.1,218.7 473.6,220.4 474.1,221.2 474.6,220.1 475.1,219.7 475.6,217.5 476.1,219.3 476.6,220.7 477.1,220.7 477.6,217.8 478.1,219.1 478.6,217.9 479.1,217.7 479.6,220.8 480.2,219.6 480.7,219.5 481.2,219.3 481.7,219.4 482.2,219.7 482.7,219.8 483.2,221.1 483.7,220.2 484.2,220.8 484.7,219.9 485.2,220.5 485.7,218.8 486.2,218.9 486.7,219.6 487.2,219.6 487.7,219.9 488.2,220.5 488.7,220.2 489.2,220.5 489.7,219.6 490.2,219.9 490.7,218.4 491.2,221.2 491.7,219.1 492.2,220.8 492.7,220.8 493.2,219.5 493.7,220.6 494.2,219.7 494.7,220.6 495.2,220.9 495.7,220.9 496.2,218.6 496.7,219.9 497.2,221.2 497.7,220.0 498.2,220.8 498.7,217.2 499.2,220.5 499.7,219.5 500.2,219.4 500.7,221.0 501.3,219.7 501.8,218.9 502.3,219.4 502.8,219.7 503.3,218.9 503.8,219.8 504.3,219.6 504.8,220.1 505.3,219.3 505.8,221.0 506.3,217.8 506.8,220.5 507.3,220.1 507.8,219.6 508.3,218.1 508.8,218.9 509.3,220.5 509.8,219.2 510.3,220.2 510.8,220.1 511.3,219.9 511.8,221.2 512.3,219.8 512.8,220.4 513.3,219.9 513.8,220.0 514.3,220.7 514.8,220.7 515.3,219.1 515.8,218.2 516.3,219.5 516.8,218.8 517.3,219.3 517.8,221.2 518.3,219.8 518.8,219.5 519.3,219.0 519.8,219.4 520.3,219.4 520.8,220.4 521.3,220.7 521.9,219.3 522.4,218.4 522.9,218.9 523.4,218.9 523.9,218.1 524.0,220.4 524.2,219.2 524.3,218.9 524.5,219.2 524.6,218.8 524.8,218.9 525.0,218.3 525.1,217.8 525.3,217.7 525.4,217.6 525.6,217.8 525.7,218.1 525.9,218.5 526.1,219.1 526.2,218.3 526.4,220.3 526.5,219.4 526.7,220.0 526.8,221.2 527.0,218.7 527.2,219.6 527.3,220.3 527.5,219.4 527.6,219.0 527.8,218.2 527.9,217.6 528.1,217.1 528.3,216.7 528.4,216.7 528.6,216.8 528.7,217.2 528.9,217.8 529.0,218.5 529.2,219.3 529.4,219.6 529.5,219.4 529.7,221.0 529.8,220.7 530.0,218.3 530.1,219.6 530.3,220.1 530.5,219.3 530.6,218.4 530.8,217.4 530.9,216.6 531.1,216.0 531.2,215.6 531.4,215.4 531.6,215.7 531.7,216.2 531.9,216.9 532.0,217.8 532.2,218.8 532.3,219.7 532.5,219.5 532.7,216.1 532.8,221.2 533.0,219.6 533.1,220.3 533.3,219.8 533.4,218.8 533.6,217.6 533.8,216.4 533.9,215.4 534.1,214.5 534.2,214.0 534.4,213.9 534.5,214.2 534.7,214.8 534.9,215.8 535.0,216.9 535.2,218.1 535.3,219.1 535.5,219.8 535.6,220.8 535.8,219.7 535.9,217.0 536.1,218.6 536.3,219.4 536.4,218.1 536.6,216.6 536.7,218.6 536.9,216.7 537.0,214.9 537.2,214.3 537.4,213.7 537.5,214.0 537.7,214.3 537.8,215.9 538.0,217.5 538.1,219.9 538.3,222.4 538.5,219.9 538.6,217.5 538.8,216.4 538.9,215.4 539.1,216.4 539.2,217.5 539.4,219.6 539.6,221.7 539.7,217.7 539.9,213.7 540.0,210.5 540.2,207.3 540.3,205.5 540.5,203.7 540.7,204.6 540.8,205.4 541.0,210.9 541.1,216.4 541.3,213.5 541.4,210.7 541.6,200.7 541.8,190.8 541.9,181.8 542.1,172.8 542.2,163.0 542.4,153.3 542.5,143.4 542.7,133.4 542.9,143.4 543.0,153.3 543.2,163.0 543.3,172.8 543.5,181.8 543.6,190.8 543.8,200.7 544.0,210.7 544.1,213.5 544.3,216.4 544.4,210.9 544.6,205.4 544.7,204.6 544.9,203.7 545.1,205.5 545.2,207.3 545.4,210.5 545.5,213.7 545.7,217.7 545.8,221.7 546.0,219.6 546.2,217.5 546.3,216.4 546.5,215.4 546.6,216.4 546.8,217.5 546.9,219.9 547.1,222.4 547.3,219.9 547.4,217.5 547.6,215.9 547.7,214.3 547.9,214.0 548.0,213.7 548.2,214.3 548.4,214.9 548.5,216.7 548.7,218.6 548.8,216.6 549.0,218.1 549.1,219.4 549.3,220.4 549.5,218.4 549.6,218.9 549.8,218.6 549.9,219.3 550.1,219.3 550.2,218.1 550.4,216.9 550.6,215.8 550.7,214.8 550.9,214.2 551.0,213.9 551.2,214.0 551.3,214.5 551.5,215.4 551.6,216.4 551.8,217.6 552.0,218.8 552.1,219.8 552.3,219.2 552.4,217.7 552.6,220.6 552.7,218.0 552.9,220.5 553.1,219.3 553.2,218.8 553.4,217.8 553.5,216.9 553.7,216.2 553.8,215.7 554.0,215.4 554.2,215.6 554.3,216.0 554.5,216.6 554.6,217.4 554.8,218.4 554.9,219.3 555.1,218.8 555.3,218.5 555.4,219.0 555.6,220.8 555.7,219.1 555.9,220.4 556.0,220.0 556.2,218.8 556.4,218.1 556.5,217.8 556.7,217.2 556.8,216.8 557.0,216.7 557.1,216.7 557.3,217.1 557.5,217.4 557.6,218.2 557.8,219.0 557.9,219.7 558.1,220.3 558.2,218.8 558.4,218.2 558.6,220.7 558.7,219.2 558.9,219.2 559.0,220.3 559.2,219.0 559.3,218.5 559.5,218.5 559.7,218.1 559.8,217.8 560.0,217.6 560.1,217.7 560.3,217.9 560.4,218.3 560.6,218.9 560.8,219.4 560.9,220.0 561.1,219.6 561.2,220.9 561.4,218.9 561.5,221.2 562.0,218.9 562.5,218.9 563.0,218.4 563.5,219.3 564.1,220.3 564.6,218.7 565.1,219.7 565.6,219.4 566.1,219.0 566.6,218.7 567.1,219.2 567.6,220.3 568.1,219.7 568.6,219.7 569.1,219.5 569.6,220.1 570.1,219.6 570.6,219.1 571.1,220.7 571.6,219.2 572.1,219.1 572.6,219.7 573.1,218.9 573.6,220.3 574.1,220.1 574.6,219.5 575.1,220.0 575.6,219.1 576.1,221.1 576.6,217.9 577.1,220.8 577.6,218.7 578.1,220.4 578.6,219.3 579.1,218.6 579.6,218.7 580.1,219.0 580.6,220.6 581.1,220.6 581.6,220.2 582.1,220.2 582.6,218.8 583.1,219.8 583.6,220.0 584.1,219.5 584.7,221.0 585.2,221.0 585.7,220.9 586.2,219.4 586.7,219.6 587.2,219.3 587.7,218.8 588.2,221.2 588.7,220.6 589.2,219.9 589.7,220.6 590.2,220.6 590.7,218.5 591.2,217.8 591.7,218.8 592.2,219.9 592.7,220.2 593.2,218.8 593.7,220.3 594.2,219.6 594.7,218.5 595.2,220.4 595.7,219.6 596.2,220.0 596.7,219.3 597.2,219.4 597.7,219.8 598.2,219.4 598.7,221.1 599.2,220.9 599.7,219.8 600.2,221.0 600.7,221.2 601.2,221.1 601.7,221.0 602.2,220.2 602.7,221.1 603.2,219.7 603.7,218.1 604.2,220.1 604.7,218.5 605.2,219.7 605.8,221.2 606.3,220.3 606.8,220.6 607.3,219.2 607.8,221.1 608.3,218.6 608.8,219.4 609.3,221.2 609.8,219.1 610.3,218.3 610.8,220.8 611.3,219.0 611.8,221.2 612.3,219.8 612.8,221.2 613.3,219.5 613.8,221.2 614.3,221.2 614.8,219.6 615.3,217.5 615.8,219.7 616.3,219.1 616.8,219.8 617.3,220.3 617.8,219.3 618.3,218.2 618.8,221.2 619.3,219.4 619.8,219.6 620.3,221.2 620.8,218.2 621.3,217.9 621.8,220.9 622.3,218.1 622.8,219.9 623.3,220.1 623.8,218.3 624.3,219.7 624.8,219.6 625.3,218.3 625.8,218.5 626.3,219.0 626.9,221.2 627.4,221.1 627.9,218.8 628.4,220.9 628.9,219.9 629.4,221.1 629.9,220.2 630.4,221.2 630.9,218.3 631.4,221.0 631.9,220.1 632.4,220.2 632.9,218.7 633.4,221.2 633.9,220.0 634.4,220.2 634.9,219.4 635.4,219.5 635.9,220.5 636.4,219.7 636.9,220.4 637.4,219.5 637.9,220.1 638.4,220.7 638.9,220.0 639.4,219.5 639.9,217.5 640.4,220.5 640.9,219.6 641.4,218.4 641.9,221.2 642.4,221.2 642.9,221.2 643.4,220.1 643.9,217.3 644.4,219.5 644.9,218.7 645.4,220.2 645.9,221.2 646.4,221.2 646.9,218.9 647.5,219.8 648.0,221.2 648.5,218.8 649.0,221.2 649.5,218.4 650.0,218.4 650.5,220.8 651.0,221.2 651.5,219.1 652.0,220.9 652.5,219.1 653.0,221.2 653.5,218.8 654.0,219.9 654.5,220.5 655.0,220.9 655.5,219.8 656.0,221.2 656.5,220.3 657.0,220.4 657.5,219.3 658.0,221.2 658.5,218.2 659.0,220.3 659.5,221.2 660.0,218.5 660.5,217.6 661.0,220.2 661.5,220.9 662.0,220.0 662.5,220.7 663.0,220.3 663.5,218.3 664.0,219.5 664.5,219.8 665.0,219.6 665.5,220.0 666.0,219.0 666.5,216.5 667.0,220.4 667.5,219.8 668.0,217.4 668.6,219.5 669.1,220.1 669.6,217.8 670.1,219.9 670.6,220.5 671.1,219.3 671.6,220.9 672.1,220.5 672.6,219.6 673.1,220.1 673.6,220.8 674.1,220.6 674.6,220.6 675.1,218.7 675.6,220.7 676.1,220.6 676.6,217.8 677.1,220.5 677.6,218.3 678.1,218.5 678.6,220.1 679.1,221.2 679.6,219.5 680.1,219.2 680.6,218.9 681.1,219.9 681.6,218.6 682.1,218.5 682.6,221.1 683.1,218.4 683.6,219.8 684.1,220.6 684.6,220.3" fill="none" stroke="#e8152e" stroke-width="1.8" stroke-linejoin="round" />
<rect x="401.5" y="9.5" width="281.95" height="221.6" fill="none" stroke="#000" stroke-width="1.5"/>
<line x1="401.5" y1="222.1" x2="404.1" y2="222.1" stroke="#000" stroke-width="1.1" />
<line x1="401.5" y1="177.76" x2="404.1" y2="177.76" stroke="#000" stroke-width="1.1" />
<line x1="401.5" y1="133.43" x2="404.1" y2="133.43" stroke="#000" stroke-width="1.1" />
<line x1="401.5" y1="89.09" x2="404.1" y2="89.09" stroke="#000" stroke-width="1.1" />
<line x1="401.5" y1="44.76" x2="404.1" y2="44.76" stroke="#000" stroke-width="1.1" />
<line x1="401.5" y1="199.93" x2="403.2" y2="199.93" stroke="#000" stroke-width="1.1" />
<line x1="401.5" y1="155.6" x2="403.2" y2="155.6" stroke="#000" stroke-width="1.1" />
<line x1="401.5" y1="111.26" x2="403.2" y2="111.26" stroke="#000" stroke-width="1.1" />
<line x1="401.5" y1="66.93" x2="403.2" y2="66.93" stroke="#000" stroke-width="1.1" />
<line x1="401.5" y1="22.59" x2="403.2" y2="22.59" stroke="#000" stroke-width="1.1" />
<text x="396.2" y="226.3" font-size="12" text-anchor="end" fill="#111" >0.0</text>
<text x="396.2" y="181.96" font-size="12" text-anchor="end" fill="#111" >0.5</text>
<text x="396.2" y="137.63" font-size="12" text-anchor="end" fill="#111" >1.0</text>
<text x="396.2" y="93.3" font-size="12" text-anchor="end" fill="#111" >1.5</text>
<text x="396.2" y="48.96" font-size="12" text-anchor="end" fill="#111" >2.0</text>
<line x1="417.1" y1="231.1" x2="417.1" y2="228.5" stroke="#000" stroke-width="1.1" />
<line x1="479.9" y1="231.1" x2="479.9" y2="228.5" stroke="#000" stroke-width="1.1" />
<line x1="542.7" y1="231.1" x2="542.7" y2="228.5" stroke="#000" stroke-width="1.1" />
<line x1="605.5" y1="231.1" x2="605.5" y2="228.5" stroke="#000" stroke-width="1.1" />
<line x1="668.3" y1="231.1" x2="668.3" y2="228.5" stroke="#000" stroke-width="1.1" />
<line x1="448.5" y1="231.1" x2="448.5" y2="229.4" stroke="#000" stroke-width="1.1" />
<line x1="511.3" y1="231.1" x2="511.3" y2="229.4" stroke="#000" stroke-width="1.1" />
<line x1="574.1" y1="231.1" x2="574.1" y2="229.4" stroke="#000" stroke-width="1.1" />
<line x1="636.9" y1="231.1" x2="636.9" y2="229.4" stroke="#000" stroke-width="1.1" />
<text x="417.8" y="245.6" font-size="12" text-anchor="middle" fill="#111" >–400</text>
<text x="480.6" y="245.6" font-size="12" text-anchor="middle" fill="#111" >–200</text>
<text x="542.7" y="245.6" font-size="12" text-anchor="middle" fill="#111" >0</text>
<text x="605.5" y="245.6" font-size="12" text-anchor="middle" fill="#111" >200</text>
<text x="668.3" y="245.6" font-size="12" text-anchor="middle" fill="#111" >400</text>
<text x="542.7" y="263" font-size="12" text-anchor="middle" fill="#111" >Time (ns)</text>
<text transform="translate(369.1,120.8) rotate(-90)" font-size="12" text-anchor="middle" fill="#111" >Amplitude (a.u.)</text>
<rect x="477.5" y="9.5" width="205.95" height="94.25" fill="#fff" stroke="#000" stroke-width="1.4"/>
<line x1="477.5" y1="29.2" x2="683.45" y2="29.2" stroke="#9a9a9a" stroke-width="0.9" stroke-dasharray="1.5,1.5"/>
<polyline points="477.6,91.8 483.0,88.9 488.4,87.3 493.9,88.1 499.3,92.4 504.7,96.5 510.2,92.8 515.6,90.1 521.0,92.4 526.5,95.1 531.9,88.1 537.3,81.6 542.8,78.4 548.2,81.3 553.6,90.9 559.1,85.7 564.5,67.0 569.9,48.0 575.4,34.3 580.8,28.9 586.2,34.3 591.7,48.0 597.1,67.0 602.5,85.7 608.0,90.9 613.4,81.3 618.8,78.4 624.3,81.6 629.7,88.1 635.1,95.1 640.6,92.4 646.0,90.1 651.4,92.8 656.9,96.5 662.3,92.4 667.7,88.1 673.2,87.3 678.6,88.9 684.0,91.8" fill="none" stroke="#3c9bda" stroke-width="1.3" stroke-linejoin="round" />
<circle cx="477.6" cy="91.8" r="2.1" fill="#3c9bda"/><circle cx="477.6" cy="91.8" r="0.7" fill="#a9d3ef"/>
<circle cx="483.0" cy="88.9" r="2.1" fill="#3c9bda"/><circle cx="483.0" cy="88.9" r="0.7" fill="#a9d3ef"/>
<circle cx="488.4" cy="87.3" r="2.1" fill="#3c9bda"/><circle cx="488.4" cy="87.3" r="0.7" fill="#a9d3ef"/>
<circle cx="493.9" cy="88.1" r="2.1" fill="#3c9bda"/><circle cx="493.9" cy="88.1" r="0.7" fill="#a9d3ef"/>
<circle cx="499.3" cy="92.4" r="2.1" fill="#3c9bda"/><circle cx="499.3" cy="92.4" r="0.7" fill="#a9d3ef"/>
<circle cx="504.7" cy="96.5" r="2.1" fill="#3c9bda"/><circle cx="504.7" cy="96.5" r="0.7" fill="#a9d3ef"/>
<circle cx="510.2" cy="92.8" r="2.1" fill="#3c9bda"/><circle cx="510.2" cy="92.8" r="0.7" fill="#a9d3ef"/>
<circle cx="515.6" cy="90.1" r="2.1" fill="#3c9bda"/><circle cx="515.6" cy="90.1" r="0.7" fill="#a9d3ef"/>
<circle cx="521.0" cy="92.4" r="2.1" fill="#3c9bda"/><circle cx="521.0" cy="92.4" r="0.7" fill="#a9d3ef"/>
<circle cx="526.5" cy="95.1" r="2.1" fill="#3c9bda"/><circle cx="526.5" cy="95.1" r="0.7" fill="#a9d3ef"/>
<circle cx="531.9" cy="88.1" r="2.1" fill="#3c9bda"/><circle cx="531.9" cy="88.1" r="0.7" fill="#a9d3ef"/>
<circle cx="537.3" cy="81.6" r="2.1" fill="#3c9bda"/><circle cx="537.3" cy="81.6" r="0.7" fill="#a9d3ef"/>
<circle cx="542.8" cy="78.4" r="2.1" fill="#3c9bda"/><circle cx="542.8" cy="78.4" r="0.7" fill="#a9d3ef"/>
<circle cx="548.2" cy="81.3" r="2.1" fill="#3c9bda"/><circle cx="548.2" cy="81.3" r="0.7" fill="#a9d3ef"/>
<circle cx="553.6" cy="90.9" r="2.1" fill="#3c9bda"/><circle cx="553.6" cy="90.9" r="0.7" fill="#a9d3ef"/>
<circle cx="559.1" cy="85.7" r="2.1" fill="#3c9bda"/><circle cx="559.1" cy="85.7" r="0.7" fill="#a9d3ef"/>
<circle cx="564.5" cy="67.0" r="2.1" fill="#3c9bda"/><circle cx="564.5" cy="67.0" r="0.7" fill="#a9d3ef"/>
<circle cx="569.9" cy="48.0" r="2.1" fill="#3c9bda"/><circle cx="569.9" cy="48.0" r="0.7" fill="#a9d3ef"/>
<circle cx="575.4" cy="34.3" r="2.1" fill="#3c9bda"/><circle cx="575.4" cy="34.3" r="0.7" fill="#a9d3ef"/>
<circle cx="580.8" cy="28.9" r="2.1" fill="#3c9bda"/><circle cx="580.8" cy="28.9" r="0.7" fill="#a9d3ef"/>
<circle cx="586.2" cy="34.3" r="2.1" fill="#3c9bda"/><circle cx="586.2" cy="34.3" r="0.7" fill="#a9d3ef"/>
<circle cx="591.7" cy="48.0" r="2.1" fill="#3c9bda"/><circle cx="591.7" cy="48.0" r="0.7" fill="#a9d3ef"/>
<circle cx="597.1" cy="67.0" r="2.1" fill="#3c9bda"/><circle cx="597.1" cy="67.0" r="0.7" fill="#a9d3ef"/>
<circle cx="602.5" cy="85.7" r="2.1" fill="#3c9bda"/><circle cx="602.5" cy="85.7" r="0.7" fill="#a9d3ef"/>
<circle cx="608.0" cy="90.9" r="2.1" fill="#3c9bda"/><circle cx="608.0" cy="90.9" r="0.7" fill="#a9d3ef"/>
<circle cx="613.4" cy="81.3" r="2.1" fill="#3c9bda"/><circle cx="613.4" cy="81.3" r="0.7" fill="#a9d3ef"/>
<circle cx="618.8" cy="78.4" r="2.1" fill="#3c9bda"/><circle cx="618.8" cy="78.4" r="0.7" fill="#a9d3ef"/>
<circle cx="624.3" cy="81.6" r="2.1" fill="#3c9bda"/><circle cx="624.3" cy="81.6" r="0.7" fill="#a9d3ef"/>
<circle cx="629.7" cy="88.1" r="2.1" fill="#3c9bda"/><circle cx="629.7" cy="88.1" r="0.7" fill="#a9d3ef"/>
<circle cx="635.1" cy="95.1" r="2.1" fill="#3c9bda"/><circle cx="635.1" cy="95.1" r="0.7" fill="#a9d3ef"/>
<circle cx="640.6" cy="92.4" r="2.1" fill="#3c9bda"/><circle cx="640.6" cy="92.4" r="0.7" fill="#a9d3ef"/>
<circle cx="646.0" cy="90.1" r="2.1" fill="#3c9bda"/><circle cx="646.0" cy="90.1" r="0.7" fill="#a9d3ef"/>
<circle cx="651.4" cy="92.8" r="2.1" fill="#3c9bda"/><circle cx="651.4" cy="92.8" r="0.7" fill="#a9d3ef"/>
<circle cx="656.9" cy="96.5" r="2.1" fill="#3c9bda"/><circle cx="656.9" cy="96.5" r="0.7" fill="#a9d3ef"/>
<circle cx="662.3" cy="92.4" r="2.1" fill="#3c9bda"/><circle cx="662.3" cy="92.4" r="0.7" fill="#a9d3ef"/>
<circle cx="667.7" cy="88.1" r="2.1" fill="#3c9bda"/><circle cx="667.7" cy="88.1" r="0.7" fill="#a9d3ef"/>
<circle cx="673.2" cy="87.3" r="2.1" fill="#3c9bda"/><circle cx="673.2" cy="87.3" r="0.7" fill="#a9d3ef"/>
<circle cx="678.6" cy="88.9" r="2.1" fill="#3c9bda"/><circle cx="678.6" cy="88.9" r="0.7" fill="#a9d3ef"/>
<circle cx="684.0" cy="91.8" r="2.1" fill="#3c9bda"/><circle cx="684.0" cy="91.8" r="0.7" fill="#a9d3ef"/>
<polyline points="477.6,93.8 483.0,91.0 488.4,90.1 493.9,90.6 499.3,93.0 504.7,96.7 510.2,93.0 515.6,91.4 521.0,93.0 526.5,96.2 531.9,90.1 537.3,85.2 542.8,82.5 548.2,83.8 553.6,92.2 559.1,87.8 564.5,72.6 569.9,58.9 575.4,44.0 580.8,28.9 586.2,44.0 591.7,58.9 597.1,72.6 602.5,87.8 608.0,92.2 613.4,83.8 618.8,82.5 624.3,85.2 629.7,90.1 635.1,96.2 640.6,93.0 646.0,91.4 651.4,93.0 656.9,96.7 662.3,93.0 667.7,90.6 673.2,90.1 678.6,91.0 684.0,93.8" fill="none" stroke="#e8152e" stroke-width="1.3" stroke-linejoin="round" />
<circle cx="477.6" cy="93.8" r="2.1" fill="#e8152e"/><circle cx="477.6" cy="93.8" r="0.7" fill="#f5a3ae"/>
<circle cx="483.0" cy="91.0" r="2.1" fill="#e8152e"/><circle cx="483.0" cy="91.0" r="0.7" fill="#f5a3ae"/>
<circle cx="488.4" cy="90.1" r="2.1" fill="#e8152e"/><circle cx="488.4" cy="90.1" r="0.7" fill="#f5a3ae"/>
<circle cx="493.9" cy="90.6" r="2.1" fill="#e8152e"/><circle cx="493.9" cy="90.6" r="0.7" fill="#f5a3ae"/>
<circle cx="499.3" cy="93.0" r="2.1" fill="#e8152e"/><circle cx="499.3" cy="93.0" r="0.7" fill="#f5a3ae"/>
<circle cx="504.7" cy="96.7" r="2.1" fill="#e8152e"/><circle cx="504.7" cy="96.7" r="0.7" fill="#f5a3ae"/>
<circle cx="510.2" cy="93.0" r="2.1" fill="#e8152e"/><circle cx="510.2" cy="93.0" r="0.7" fill="#f5a3ae"/>
<circle cx="515.6" cy="91.4" r="2.1" fill="#e8152e"/><circle cx="515.6" cy="91.4" r="0.7" fill="#f5a3ae"/>
<circle cx="521.0" cy="93.0" r="2.1" fill="#e8152e"/><circle cx="521.0" cy="93.0" r="0.7" fill="#f5a3ae"/>
<circle cx="526.5" cy="96.2" r="2.1" fill="#e8152e"/><circle cx="526.5" cy="96.2" r="0.7" fill="#f5a3ae"/>
<circle cx="531.9" cy="90.1" r="2.1" fill="#e8152e"/><circle cx="531.9" cy="90.1" r="0.7" fill="#f5a3ae"/>
<circle cx="537.3" cy="85.2" r="2.1" fill="#e8152e"/><circle cx="537.3" cy="85.2" r="0.7" fill="#f5a3ae"/>
<circle cx="542.8" cy="82.5" r="2.1" fill="#e8152e"/><circle cx="542.8" cy="82.5" r="0.7" fill="#f5a3ae"/>
<circle cx="548.2" cy="83.8" r="2.1" fill="#e8152e"/><circle cx="548.2" cy="83.8" r="0.7" fill="#f5a3ae"/>
<circle cx="553.6" cy="92.2" r="2.1" fill="#e8152e"/><circle cx="553.6" cy="92.2" r="0.7" fill="#f5a3ae"/>
<circle cx="559.1" cy="87.8" r="2.1" fill="#e8152e"/><circle cx="559.1" cy="87.8" r="0.7" fill="#f5a3ae"/>
<circle cx="564.5" cy="72.6" r="2.1" fill="#e8152e"/><circle cx="564.5" cy="72.6" r="0.7" fill="#f5a3ae"/>
<circle cx="569.9" cy="58.9" r="2.1" fill="#e8152e"/><circle cx="569.9" cy="58.9" r="0.7" fill="#f5a3ae"/>
<circle cx="575.4" cy="44.0" r="2.1" fill="#e8152e"/><circle cx="575.4" cy="44.0" r="0.7" fill="#f5a3ae"/>
<circle cx="580.8" cy="28.9" r="2.1" fill="#e8152e"/><circle cx="580.8" cy="28.9" r="0.7" fill="#f5a3ae"/>
<circle cx="586.2" cy="44.0" r="2.1" fill="#e8152e"/><circle cx="586.2" cy="44.0" r="0.7" fill="#f5a3ae"/>
<circle cx="591.7" cy="58.9" r="2.1" fill="#e8152e"/><circle cx="591.7" cy="58.9" r="0.7" fill="#f5a3ae"/>
<circle cx="597.1" cy="72.6" r="2.1" fill="#e8152e"/><circle cx="597.1" cy="72.6" r="0.7" fill="#f5a3ae"/>
<circle cx="602.5" cy="87.8" r="2.1" fill="#e8152e"/><circle cx="602.5" cy="87.8" r="0.7" fill="#f5a3ae"/>
<circle cx="608.0" cy="92.2" r="2.1" fill="#e8152e"/><circle cx="608.0" cy="92.2" r="0.7" fill="#f5a3ae"/>
<circle cx="613.4" cy="83.8" r="2.1" fill="#e8152e"/><circle cx="613.4" cy="83.8" r="0.7" fill="#f5a3ae"/>
<circle cx="618.8" cy="82.5" r="2.1" fill="#e8152e"/><circle cx="618.8" cy="82.5" r="0.7" fill="#f5a3ae"/>
<circle cx="624.3" cy="85.2" r="2.1" fill="#e8152e"/><circle cx="624.3" cy="85.2" r="0.7" fill="#f5a3ae"/>
<circle cx="629.7" cy="90.1" r="2.1" fill="#e8152e"/><circle cx="629.7" cy="90.1" r="0.7" fill="#f5a3ae"/>
<circle cx="635.1" cy="96.2" r="2.1" fill="#e8152e"/><circle cx="635.1" cy="96.2" r="0.7" fill="#f5a3ae"/>
<circle cx="640.6" cy="93.0" r="2.1" fill="#e8152e"/><circle cx="640.6" cy="93.0" r="0.7" fill="#f5a3ae"/>
<circle cx="646.0" cy="91.4" r="2.1" fill="#e8152e"/><circle cx="646.0" cy="91.4" r="0.7" fill="#f5a3ae"/>
<circle cx="651.4" cy="93.0" r="2.1" fill="#e8152e"/><circle cx="651.4" cy="93.0" r="0.7" fill="#f5a3ae"/>
<circle cx="656.9" cy="96.7" r="2.1" fill="#e8152e"/><circle cx="656.9" cy="96.7" r="0.7" fill="#f5a3ae"/>
<circle cx="662.3" cy="93.0" r="2.1" fill="#e8152e"/><circle cx="662.3" cy="93.0" r="0.7" fill="#f5a3ae"/>
<circle cx="667.7" cy="90.6" r="2.1" fill="#e8152e"/><circle cx="667.7" cy="90.6" r="0.7" fill="#f5a3ae"/>
<circle cx="673.2" cy="90.1" r="2.1" fill="#e8152e"/><circle cx="673.2" cy="90.1" r="0.7" fill="#f5a3ae"/>
<circle cx="678.6" cy="91.0" r="2.1" fill="#e8152e"/><circle cx="678.6" cy="91.0" r="0.7" fill="#f5a3ae"/>
<circle cx="684.0" cy="93.8" r="2.1" fill="#e8152e"/><circle cx="684.0" cy="93.8" r="0.7" fill="#f5a3ae"/>
<line x1="618.8" y1="29.2" x2="618.8" y2="82.4" stroke="#e9773c" stroke-width="1.0" stroke-dasharray="3,2.2"/>
<text x="624.6" y="71" font-size="10.5" fill="#111" >-6.70 dB</text>
<path d="M570,63 L591,63" stroke="#555" stroke-width="1.0"/>
<path d="M567.8,63 L572.6,61.7 L572.6,64.3 Z" fill="#000"/><path d="M593,63 L588.2,61.7 L588.2,64.3 Z" fill="#000"/>
<text x="579.4" y="76" font-size="10.3" text-anchor="middle" font-weight="bold" fill="#000" >5 ns</text>
<line x1="477.5" y1="97.2" x2="479.9" y2="97.2" stroke="#000" stroke-width="1.1" />
<line x1="477.5" y1="63.3" x2="479.9" y2="63.3" stroke="#000" stroke-width="1.1" />
<line x1="477.5" y1="29.4" x2="479.9" y2="29.4" stroke="#000" stroke-width="1.1" />
<line x1="477.5" y1="80.25" x2="479.2" y2="80.25" stroke="#000" stroke-width="1.1" />
<line x1="477.5" y1="46.35" x2="479.2" y2="46.35" stroke="#000" stroke-width="1.1" />
<text x="471.7" y="100" font-size="10" text-anchor="end" fill="#111" >0.0</text>
<text x="471.7" y="66.1" font-size="10" text-anchor="end" fill="#111" >0.5</text>
<text x="471.7" y="32.2" font-size="10" text-anchor="end" fill="#111" >1.0</text>
<line x1="499.3" y1="103.75" x2="499.3" y2="101.35" stroke="#000" stroke-width="1.1" />
<line x1="526.47" y1="103.75" x2="526.47" y2="101.35" stroke="#000" stroke-width="1.1" />
<line x1="553.63" y1="103.75" x2="553.63" y2="101.35" stroke="#000" stroke-width="1.1" />
<line x1="580.8" y1="103.75" x2="580.8" y2="101.35" stroke="#000" stroke-width="1.1" />
<line x1="607.96" y1="103.75" x2="607.96" y2="101.35" stroke="#000" stroke-width="1.1" />
<line x1="635.13" y1="103.75" x2="635.13" y2="101.35" stroke="#000" stroke-width="1.1" />
<line x1="662.29" y1="103.75" x2="662.29" y2="101.35" stroke="#000" stroke-width="1.1" />
<line x1="485.72" y1="103.75" x2="485.72" y2="102.05" stroke="#000" stroke-width="1.1" />
<line x1="512.89" y1="103.75" x2="512.89" y2="102.05" stroke="#000" stroke-width="1.1" />
<line x1="540.05" y1="103.75" x2="540.05" y2="102.05" stroke="#000" stroke-width="1.1" />
<line x1="567.22" y1="103.75" x2="567.22" y2="102.05" stroke="#000" stroke-width="1.1" />
<line x1="594.38" y1="103.75" x2="594.38" y2="102.05" stroke="#000" stroke-width="1.1" />
<line x1="621.55" y1="103.75" x2="621.55" y2="102.05" stroke="#000" stroke-width="1.1" />
<line x1="648.71" y1="103.75" x2="648.71" y2="102.05" stroke="#000" stroke-width="1.1" />
<line x1="675.88" y1="103.75" x2="675.88" y2="102.05" stroke="#000" stroke-width="1.1" />
<text x="500" y="117.7" font-size="10.2" text-anchor="middle" fill="#111" >–15</text>
<text x="527.17" y="117.7" font-size="10.2" text-anchor="middle" fill="#111" >–10</text>
<text x="554.34" y="117.7" font-size="10.2" text-anchor="middle" fill="#111" >–5</text>
<text x="580.8" y="117.7" font-size="10.2" text-anchor="middle" fill="#111" >0</text>
<text x="607.96" y="117.7" font-size="10.2" text-anchor="middle" fill="#111" >5</text>
<text x="635.13" y="117.7" font-size="10.2" text-anchor="middle" fill="#111" >10</text>
<text x="662.29" y="117.7" font-size="10.2" text-anchor="middle" fill="#111" >15</text>
<text x="580.6" y="131.7" font-size="10.3" text-anchor="middle" fill="#111" >Time (ns)</text>
<text transform="translate(447.4,56.9) rotate(-90)" font-size="10.4" text-anchor="middle" fill="#111" >Amp.(a.u.)</text>
<line x1="484.3" y1="18" x2="496.4" y2="18" stroke="#3c9bda" stroke-width="1.1" />
<circle cx="490.3" cy="18" r="2.0" fill="#3c9bda"/><circle cx="490.3" cy="18" r="0.7" fill="#cfe6f6"/>
<text x="500.3" y="21.3" font-size="10.3" fill="#111" >Sine chirp</text>
<line x1="551.2" y1="18" x2="563.3" y2="18" stroke="#e8152e" stroke-width="1.1" />
<circle cx="557.2" cy="18" r="2.0" fill="#e8152e"/><circle cx="557.2" cy="18" r="0.7" fill="#f9c8cf"/>
<text x="567.7" y="21.3" font-size="10.3" fill="#111" >Square-wave width-chirp</text>
<text x="-0.6" y="298.8" font-size="16.5" font-weight="bold" fill="#000" >c</text>
<polyline points="49.90,515.60 54.60,515.60 54.99,514.96 55.44,357.52 56.19,355.63 65.54,356.26 66.08,358.79 66.40,491.57 66.79,496.00 67.04,516.86 68.06,519.20 69.09,511.60 70.12,516.96 71.14,512.71 72.17,516.77 73.20,516.09 74.22,513.19 75.25,514.96 75.70,357.52 76.45,355.63 81.98,356.26 82.53,358.79 82.84,491.57 83.23,496.00 83.48,516.86 84.45,519.89 85.41,512.59 86.38,518.02 87.34,514.11 88.31,515.95 89.27,514.96 89.73,357.52 90.47,355.63 94.57,356.26 95.12,358.79 95.43,491.57 95.82,496.00 96.07,516.86 96.99,518.02 97.92,513.34 98.84,516.63 99.76,514.28 100.68,514.96 101.14,357.52 101.88,355.63 105.18,356.26 105.72,358.79 106.04,491.57 106.43,496.00 106.68,516.86 107.65,517.44 108.62,513.58 109.59,516.88 110.56,514.96 111.01,357.52 111.76,355.63 114.52,356.26 115.06,358.79 115.38,491.57 115.77,496.00 116.02,516.86 116.86,518.08 117.70,513.74 118.55,516.87 119.39,514.96 119.84,357.52 120.59,355.63 122.96,356.26 123.50,358.79 123.82,491.57 124.21,496.00 124.46,516.86 125.46,518.81 126.45,513.03 127.45,514.96 127.90,357.52 128.65,355.63 130.72,356.26 131.27,358.79 131.58,491.57 131.97,496.00 132.22,516.86 133.12,519.28 134.01,510.73 134.91,514.96 135.36,357.52 136.11,355.63 137.94,356.26 138.49,358.79 138.80,491.57 139.19,496.00 139.44,516.86 140.26,518.69 141.07,512.54 141.89,514.96 142.34,357.52 143.09,355.63 144.73,356.26 145.27,358.79 145.59,491.57 145.98,496.00 146.23,516.86 147.35,519.27 148.47,514.96 148.92,357.52 149.67,355.63 151.14,356.26 151.69,358.79 152.00,491.57 152.39,496.00 152.64,516.86 153.68,518.43 154.71,514.96 155.17,357.52 155.91,355.63 157.24,356.26 157.79,358.79 158.10,491.57 158.49,496.00 158.74,516.86 159.70,517.38 160.66,514.96 161.12,357.52 161.86,355.63 163.07,356.26 163.62,358.79 163.93,491.57 164.32,496.00 164.57,516.86 165.47,517.99 166.36,514.96 166.82,357.52 167.56,355.63 168.66,356.26 169.21,358.79 169.52,491.57 169.91,496.00 170.16,516.86 171.00,518.07 171.84,514.96 172.29,357.52 173.04,355.63 174.04,356.26 174.59,358.79 174.90,491.57 175.29,496.00 175.54,516.86 176.33,517.01 177.12,514.96 177.57,357.52 178.32,355.63 179.23,356.26 179.78,358.79 180.09,491.57 180.48,496.00 180.73,516.86 181.47,520.99 182.21,514.96 182.67,357.52 183.41,355.63 184.25,356.26 184.80,358.79 185.11,491.57 185.50,496.00 185.75,516.86 186.45,520.85 187.15,514.96 187.60,357.52 188.35,355.63 189.12,356.26 189.66,358.79 189.98,491.57 190.37,496.00 190.62,516.86 191.28,521.92 191.94,514.96 192.39,357.52 193.14,355.63 193.84,356.26 194.39,358.79 194.70,491.57 195.09,496.00 195.34,516.86 196.59,514.96 197.05,357.52 197.79,355.63 198.44,356.26 198.98,358.79 199.30,491.57 199.69,496.00 199.94,516.86 201.12,514.96 201.58,357.52 202.32,355.63 202.91,356.26 203.45,358.79 203.77,491.57 204.16,496.00 204.41,516.86 205.54,514.96 205.99,357.52 206.74,355.63 207.27,356.26 207.82,358.79 208.13,491.57 208.52,496.00 208.77,516.86 209.84,514.96 210.30,357.52 211.04,355.63 211.54,356.26 212.08,358.79 212.40,491.57 212.79,496.00 213.04,516.86 214.05,514.96 214.51,357.52 215.25,355.63 215.70,356.26 216.25,358.79 216.56,491.57 216.95,496.00 217.20,516.86 218.17,514.96 218.63,357.52 219.37,355.63 219.78,356.26 220.32,358.79 220.64,491.57 221.03,496.00 221.28,516.86 222.20,514.96 222.66,357.52 223.40,355.63 223.77,356.26 224.31,358.79 224.63,491.57 225.02,496.00 225.27,516.86 226.15,514.96 226.61,357.52 227.35,355.63 227.68,356.26 228.23,358.79 228.54,491.57 228.93,496.00 229.18,516.86 230.02,514.96 230.48,357.52 231.22,355.63 231.52,356.26 232.06,358.79 232.38,491.57 232.77,496.00 233.02,516.86 233.82,514.96 234.28,357.52 235.02,355.63 235.29,356.26 235.83,358.79 236.15,491.57 236.54,496.00 236.79,516.86 237.56,514.96 238.01,357.52 238.76,355.63 238.99,356.26 239.53,358.79 239.85,491.57 240.24,496.00 240.49,516.86 241.22,514.96 241.68,357.52 242.42,355.63 242.62,356.26 243.17,358.79 243.48,491.57 243.87,496.00 244.12,516.86 244.83,514.96 245.28,357.52 246.03,355.63 246.20,356.26 246.75,358.79 247.06,491.57 247.45,496.00 247.70,516.86 248.37,514.96 248.83,357.52 249.57,355.63 249.72,356.26 250.27,358.79 250.58,491.57 250.97,496.00 251.22,516.86 251.87,514.96 252.32,357.52 253.07,355.63 253.19,356.26 253.73,358.79 254.05,491.57 254.44,496.00 254.69,516.86 255.30,514.96 255.76,357.52 256.50,355.63 256.60,356.26 257.15,358.79 257.46,491.57 257.85,496.00 258.10,516.86 258.69,514.96 259.14,357.52 259.89,355.63 259.96,356.26 260.51,358.79 260.82,491.57 261.21,496.00 261.46,516.86 262.03,514.96 262.48,357.52 263.23,355.63 263.28,356.26 263.82,358.79 264.14,491.57 264.53,496.00 264.78,516.86 265.32,514.96 265.77,357.52 266.52,355.63 266.55,356.26 267.09,358.79 267.41,491.57 267.80,496.00 268.05,516.86 268.56,514.96 269.02,357.52 269.76,355.63 269.78,356.26 270.32,358.79 270.64,491.57 271.03,496.00 271.28,516.86 271.77,514.96 272.22,357.52 272.97,355.63 272.96,356.26 273.50,358.79 273.82,491.57 274.21,496.00 274.46,516.86 274.93,514.96 275.39,357.52 276.13,355.63 276.10,356.26 276.65,358.79 276.96,491.57 277.35,496.00 277.60,516.86 278.05,514.96 278.51,357.52 279.25,355.63 279.21,356.26 279.75,358.79 280.07,491.57 280.46,496.00 280.71,516.86 281.14,514.96 281.59,357.52 282.34,355.63 282.27,356.26 282.82,358.79 283.13,491.57 283.52,496.00 283.77,516.86 284.18,514.96 284.64,357.52 285.38,355.63 285.30,356.26 285.85,358.79 286.16,491.57 286.55,496.00 286.80,516.86 287.20,514.96 287.65,357.52 288.40,355.63 288.30,356.26 288.84,358.79 289.16,491.57 289.55,496.00 289.80,516.86 290.17,514.96 290.63,357.52 291.37,355.63 291.26,356.26 291.81,358.79 292.12,491.57 292.51,496.00 292.76,516.86 293.12,514.96 293.57,357.52 294.32,355.63 294.19,356.26 294.73,358.79 295.05,491.57 295.44,496.00 295.69,516.86 296.03,514.96 296.48,357.52 297.23,355.63 297.09,356.26 297.63,358.79 297.95,491.57 298.34,496.00 298.59,516.86 298.91,514.96 299.36,357.52 300.11,355.63 299.95,356.26 300.50,358.79 300.81,491.57 301.20,496.00 301.45,516.86 301.76,514.96 302.21,357.52 302.96,355.63 302.79,356.26 303.33,358.79 303.65,491.57 304.04,496.00 304.29,516.86 304.58,514.96 305.04,357.52 305.78,355.63 305.60,356.26 306.14,358.79 306.46,491.57 306.85,496.00 307.10,516.86 307.37,514.96 307.83,357.52 308.57,355.63 308.38,356.26 308.92,358.79 309.24,491.57 309.63,496.00 309.88,516.86 310.14,514.96 310.59,357.52 311.34,355.63 311.13,356.26 311.67,358.79 311.99,491.57 312.38,496.00 312.63,516.86 312.88,514.96 313.33,357.52 314.08,355.63 313.86,356.26 314.40,358.79 314.72,491.57 315.11,496.00 315.36,516.86 315.59,514.96 316.04,357.52 316.79,355.63 316.56,356.26 317.10,358.79 317.42,491.57 317.81,496.00 318.06,516.86 318.28,514.96 318.73,357.52 319.48,355.63 319.23,356.26 319.78,358.79 320.09,491.57 320.48,496.00 320.73,516.86 320.94,514.96 321.40,357.52 322.14,355.63 321.88,356.26 322.43,358.79 322.74,491.57 323.13,496.00 323.38,516.86 323.58,514.96 324.03,357.52 324.78,355.63 324.51,356.26 325.06,358.79 325.37,491.57 325.76,496.00 326.01,516.86 326.19,514.96 326.65,357.52 327.39,355.63 327.12,356.26 327.66,358.79 327.98,491.57 328.37,496.00 328.62,516.86 328.79,514.96 329.24,357.52 329.99,355.63 329.70,356.26 330.24,358.79 330.56,491.57 330.95,496.00 331.20,516.86 331.36,514.96 331.81,357.52 332.56,355.63 332.45,356.26" fill="none" stroke="#ff66b2" stroke-width="1.45" stroke-linejoin="round" />
<rect x="53.1" y="298.7" width="279.35" height="222.3" fill="none" stroke="#000" stroke-width="1.5"/>
<line x1="49.2" y1="521" x2="53.1" y2="521" stroke="#000" stroke-width="1.5" />
<line x1="53.1" y1="513.7" x2="55.7" y2="513.7" stroke="#000" stroke-width="1.1" />
<line x1="53.1" y1="450.47" x2="55.7" y2="450.47" stroke="#000" stroke-width="1.1" />
<line x1="53.1" y1="387.24" x2="55.7" y2="387.24" stroke="#000" stroke-width="1.1" />
<line x1="53.1" y1="324.01" x2="55.7" y2="324.01" stroke="#000" stroke-width="1.1" />
<line x1="53.1" y1="482.09" x2="54.8" y2="482.09" stroke="#000" stroke-width="1.1" />
<line x1="53.1" y1="418.86" x2="54.8" y2="418.86" stroke="#000" stroke-width="1.1" />
<line x1="53.1" y1="355.63" x2="54.8" y2="355.63" stroke="#000" stroke-width="1.1" />
<text x="47.6" y="517.9" font-size="12" text-anchor="end" fill="#111" >0.0</text>
<text x="47.6" y="454.67" font-size="12" text-anchor="end" fill="#111" >1.0</text>
<text x="47.6" y="391.44" font-size="12" text-anchor="end" fill="#111" >2.0</text>
<text x="47.6" y="328.21" font-size="12" text-anchor="end" fill="#111" >3.0</text>
<line x1="49.9" y1="521" x2="49.9" y2="518.4" stroke="#000" stroke-width="1.1" />
<line x1="105.8" y1="521" x2="105.8" y2="518.4" stroke="#000" stroke-width="1.1" />
<line x1="161.7" y1="521" x2="161.7" y2="518.4" stroke="#000" stroke-width="1.1" />
<line x1="217.6" y1="521" x2="217.6" y2="518.4" stroke="#000" stroke-width="1.1" />
<line x1="273.5" y1="521" x2="273.5" y2="518.4" stroke="#000" stroke-width="1.1" />
<line x1="329.4" y1="521" x2="329.4" y2="518.4" stroke="#000" stroke-width="1.1" />
<line x1="77.85" y1="521" x2="77.85" y2="519.3" stroke="#000" stroke-width="1.1" />
<line x1="133.75" y1="521" x2="133.75" y2="519.3" stroke="#000" stroke-width="1.1" />
<line x1="189.65" y1="521" x2="189.65" y2="519.3" stroke="#000" stroke-width="1.1" />
<line x1="245.55" y1="521" x2="245.55" y2="519.3" stroke="#000" stroke-width="1.1" />
<line x1="301.45" y1="521" x2="301.45" y2="519.3" stroke="#000" stroke-width="1.1" />
<text x="53.1" y="535.7" font-size="12" text-anchor="middle" fill="#111" >0.0</text>
<text x="109" y="535.7" font-size="12" text-anchor="middle" fill="#111" >0.2</text>
<text x="164.9" y="535.7" font-size="12" text-anchor="middle" fill="#111" >0.4</text>
<text x="220.8" y="535.7" font-size="12" text-anchor="middle" fill="#111" >0.6</text>
<text x="276.7" y="535.7" font-size="12" text-anchor="middle" fill="#111" >0.8</text>
<text x="332.6" y="535.7" font-size="12" text-anchor="middle" fill="#111" >1.0</text>
<text x="191.2" y="553" font-size="12" text-anchor="middle" fill="#111" >Time (us)</text>
<text transform="translate(19.9,409.6) rotate(-90)" font-size="12" text-anchor="middle" fill="#111" >Amplitude(a.u.)</text>
<text x="358.6" y="298.6" font-size="16.5" font-weight="bold" fill="#000" >d</text>
<rect x="534.6" y="414" width="17.2" height="69.7" fill="#fdedc9"/>
<polyline points="401.5,515.3 402.1,515.8 402.7,516.6 403.3,516.5 403.9,515.2 404.5,514.8 405.1,514.8 405.7,515.1 406.3,515.7 406.9,516.0 407.5,515.0 408.1,513.8 408.7,513.2 409.3,513.6 409.9,514.1 410.5,514.5 411.1,514.1 411.7,513.2 412.3,512.0 412.9,512.0 413.5,512.8 414.1,513.4 414.7,513.3 415.3,512.4 415.9,511.7 416.5,511.8 417.1,511.6 417.7,511.2 418.3,511.1 418.9,511.0 419.5,510.0 420.1,509.6 420.7,509.9 421.3,510.9 421.9,511.0 422.5,509.8 423.1,509.0 423.7,508.1 424.3,507.9 424.9,508.9 425.5,509.4 426.1,509.5 426.7,509.4 427.3,508.3 427.9,507.6 428.5,507.3 429.1,507.6 429.7,508.2 430.3,507.3 430.9,506.2 431.5,505.7 432.1,506.3 432.7,507.4 433.3,507.0 433.9,506.2 434.5,505.4 435.1,504.6 435.7,503.9 436.3,504.2 436.9,505.0 437.5,505.0 438.1,503.9 438.7,502.9 439.3,502.7 439.9,503.3 440.5,503.8 441.1,503.5 441.7,503.1 442.3,502.6 442.9,501.8 443.5,501.6 444.1,502.4 444.7,503.0 445.3,502.6 445.9,501.2 446.5,500.8 447.1,500.8 447.7,501.5 448.3,501.9 448.9,501.2 449.5,500.2 450.1,499.7 450.7,499.7 451.3,499.6 451.9,499.7 452.5,500.0 453.1,499.9 453.7,499.2 454.3,498.2 454.9,498.2 455.5,498.9 456.1,499.0 456.7,498.3 457.3,497.6 457.9,497.1 458.5,497.1 459.1,497.5 459.7,497.5 460.3,497.3 460.9,496.7 461.5,496.5 462.1,496.5 462.7,496.7 463.3,497.3 463.9,496.8 464.5,495.7 465.1,494.5 465.7,494.4 466.3,494.6 466.9,495.3 467.5,495.7 468.1,494.9 468.7,493.6 469.3,493.2 469.9,493.3 470.5,494.0 471.1,494.5 471.7,494.0 472.3,493.3 472.9,493.1 473.5,492.7 474.1,492.4 474.7,492.5 475.3,492.7 475.9,492.5 476.5,492.0 477.1,491.8 477.7,491.3 478.3,491.6 478.9,491.7 479.5,491.2 480.1,490.1 480.7,489.3 481.3,489.9 481.9,490.5 482.5,491.0 483.1,490.3 483.7,489.6 484.3,488.6 484.9,487.5 485.5,488.0 486.1,489.3 486.7,489.1 487.3,487.7 487.9,486.9 488.5,486.5 489.1,487.1 489.7,488.3 490.3,488.4 490.9,488.3 491.5,486.7 492.1,485.8 492.7,486.5 493.3,487.2 493.9,487.8 494.5,487.7 495.1,486.6 495.7,485.2 496.3,484.0 496.9,484.5 497.5,485.6 498.1,485.7 498.7,485.1 499.3,484.0 499.9,484.0 500.5,484.6 501.1,484.8 501.7,484.8 502.3,484.3 502.9,483.4 503.5,482.3 504.1,482.0 504.7,482.7 505.3,483.0 505.9,482.3 506.5,481.9 507.1,481.2 507.7,480.9 508.3,481.1 508.9,482.0 509.5,482.0 510.1,481.0 510.7,480.3 511.3,480.1 511.9,480.1 512.5,480.0 513.1,480.1 513.7,479.9 514.3,479.1 514.9,479.1 515.5,478.4 516.1,478.6 516.7,479.4 517.3,478.7 517.9,477.3 518.5,476.8 519.1,476.6 519.7,476.9 520.3,477.2 520.9,477.4 521.5,477.1 522.1,476.1 522.7,475.3 523.3,475.5 523.9,476.2 524.5,476.7 525.1,476.1 525.7,475.0 526.3,474.6 526.9,474.5 527.5,475.1 528.1,475.3 528.7,475.3 529.3,474.5 529.9,473.7 530.5,473.6 531.1,474.0 531.7,474.4 532.3,474.1 532.9,473.0 533.5,472.1 534.1,470.9 534.7,471.1 535.3,472.4 535.9,473.1 536.5,473.2 537.1,472.3 537.7,471.4 538.3,471.1 538.9,472.0 539.5,472.9 540.1,472.7 540.7,471.8 541.3,470.9 541.9,470.4 542.5,470.8 543.1,471.5 543.7,472.3 544.3,471.7 544.9,470.9 545.5,470.7 546.1,471.2 546.7,472.7 547.3,473.7 547.9,473.0 548.5,471.8 549.1,471.4 549.7,472.8 550.3,473.4 550.9,473.7 551.5,474.0 552.1,473.0 552.7,472.7 553.3,473.0 553.9,473.7 554.5,474.8 555.1,476.0 555.7,475.2 556.3,474.5 556.9,474.2 557.5,474.2 558.1,475.5 558.7,476.6 559.3,476.7 559.9,475.9 560.5,475.6 561.1,475.9 561.7,476.6 562.3,476.8 562.9,477.5 563.5,477.0 564.1,476.1 564.7,475.6 565.3,477.0 565.9,479.0 566.5,479.9 567.1,478.7 567.7,477.9 568.3,478.2 568.9,478.7 569.5,479.4 570.1,480.0 570.7,480.0 571.3,479.9 571.9,479.9 572.5,480.5 573.1,481.2 573.7,481.7 574.3,481.7 574.9,481.3 575.5,480.6 576.1,481.4 576.7,482.0 577.3,482.8 577.9,482.8 578.5,482.8 579.1,482.1 579.7,481.6 580.3,481.9 580.9,483.1 581.5,484.7 582.1,484.6 582.7,483.5 583.3,482.9 583.9,482.8 584.5,483.1 585.1,484.0 585.7,484.6 586.3,484.4 586.9,483.9 587.5,484.6 588.1,485.4 588.7,485.9 589.3,485.8 589.9,485.8 590.5,485.3 591.1,484.7 591.7,485.3 592.3,487.5 592.9,488.1 593.5,487.7 594.1,487.7 594.7,487.4 595.3,487.4 595.9,488.2 596.5,489.3 597.1,489.6 597.7,488.6 598.3,487.9 598.9,487.8 599.5,487.8 600.1,489.3 600.7,490.0 601.3,489.8 601.9,489.3 602.5,489.3 603.1,489.8 603.7,490.7 604.3,491.4 604.9,491.3 605.5,490.7 606.1,490.4 606.7,490.2 607.3,491.5 607.9,492.4 608.5,492.1 609.1,492.0 609.7,492.1 610.3,491.7 610.9,491.8 611.5,492.2 612.1,493.6 612.7,493.7 613.3,493.5 613.9,493.7 614.5,493.8 615.1,494.4 615.7,494.8 616.3,494.8 616.9,494.5 617.5,494.4 618.1,494.6 618.7,495.1 619.3,496.0 619.9,496.6 620.5,495.8 621.1,495.7 621.7,496.3 622.3,496.8 622.9,497.6 623.5,498.2 624.1,497.6 624.7,496.7 625.3,496.7 625.9,497.7 626.5,498.8 627.1,499.4 627.7,498.7 628.3,497.9 628.9,497.6 629.5,498.1 630.1,498.9 630.7,500.1 631.3,500.1 631.9,498.8 632.5,497.5 633.1,498.2 633.7,500.2 634.3,501.1 634.9,501.3 635.5,500.9 636.1,500.2 636.7,499.3 637.3,499.6 637.9,500.9 638.5,502.3 639.1,502.7 639.7,502.1 640.3,501.3 640.9,501.4 641.5,502.8 642.1,503.5 642.7,503.6 643.3,503.1 643.9,502.5 644.5,502.4 645.1,503.1 645.7,504.0 646.3,504.9 646.9,504.8 647.5,504.2 648.1,503.6 648.7,504.8 649.3,505.6 649.9,506.0 650.5,505.6 651.1,504.9 651.7,504.6 652.3,505.6 652.9,506.6 653.5,507.6 654.1,507.8 654.7,506.8 655.3,506.3 655.9,506.5 656.5,507.7 657.1,508.5 657.7,508.9 658.3,508.7 658.9,508.2 659.5,508.3 660.1,508.4 660.7,509.8 661.3,510.4 661.9,509.7 662.5,509.4 663.1,509.2 663.7,509.5 664.3,509.8 664.9,510.8 665.5,510.7 666.1,510.6 666.7,510.6 667.3,510.1 667.9,510.0 668.5,511.0 669.1,511.9 669.7,512.2 670.3,511.2 670.9,510.9 671.5,512.2 672.1,513.2 672.7,513.6 673.3,513.4 673.9,513.3 674.5,512.4 675.1,512.0 675.7,513.0 676.3,514.1 676.9,514.7 677.5,514.5 678.1,513.6 678.7,514.0 679.3,515.5 679.9,516.0 680.5,515.9 681.1,515.5 681.7,514.8 682.3,515.3 682.9,516.1 683.5,516.7" fill="none" stroke="#ff66b2" stroke-width="2.0" stroke-linejoin="round" />
<path d="M534.6,470.4 L535.2,470.7 L535.8,471.4 L536.4,471.5 L537.0,470.7 L537.6,470.4 L538.2,471.0 L538.8,471.6 L539.4,471.2 L540.0,468.0 L540.6,468.0 L541.2,468.0 L541.8,468.0 L542.4,468.0 L543.0,468.0 L543.6,468.0 L544.2,468.0 L544.8,468.0 L545.4,468.0 L546.0,470.6 L546.6,471.3 L547.2,471.6 L547.8,470.9 L548.4,470.4 L549.0,470.9 L549.6,471.6 L550.2,471.3 L550.8,470.6 L550.8,475.5 L550.2,475.5 L549.6,474.8 L549.0,474.4 L548.4,474.9 L547.8,475.5 L547.2,475.5 L546.6,474.8 L546.0,474.4 L545.4,481.3 L544.8,481.3 L544.2,481.3 L543.6,481.3 L543.0,481.3 L542.4,481.3 L541.8,481.3 L541.2,481.3 L540.6,481.3 L540.0,481.3 L539.4,474.9 L538.8,475.5 L538.2,475.4 L537.6,474.7 L537.0,474.4 L536.4,474.9 L535.8,475.5 L535.2,475.4 L534.6,474.7 Z" fill="#ff66b2" stroke="#ff66b2" stroke-width="0.8" stroke-linejoin="round"/>
<path d="M541.5,470 L542.25,427.6 L543.15,427.6 L543.9,470 Z" fill="#ff66b2" stroke="#ff66b2" stroke-width="0.6"/>
<rect x="401.6" y="298.7" width="281.85" height="221.6" fill="none" stroke="#000" stroke-width="1.5"/>
<line x1="401.6" y1="520.2" x2="404.2" y2="520.2" stroke="#000" stroke-width="1.1" />
<line x1="401.6" y1="474.02" x2="404.2" y2="474.02" stroke="#000" stroke-width="1.1" />
<line x1="401.6" y1="427.83" x2="404.2" y2="427.83" stroke="#000" stroke-width="1.1" />
<line x1="401.6" y1="381.65" x2="404.2" y2="381.65" stroke="#000" stroke-width="1.1" />
<line x1="401.6" y1="335.46" x2="404.2" y2="335.46" stroke="#000" stroke-width="1.1" />
<line x1="401.6" y1="497.11" x2="403.3" y2="497.11" stroke="#000" stroke-width="1.1" />
<line x1="401.6" y1="450.92" x2="403.3" y2="450.92" stroke="#000" stroke-width="1.1" />
<line x1="401.6" y1="404.74" x2="403.3" y2="404.74" stroke="#000" stroke-width="1.1" />
<line x1="401.6" y1="358.55" x2="403.3" y2="358.55" stroke="#000" stroke-width="1.1" />
<line x1="401.6" y1="312.37" x2="403.3" y2="312.37" stroke="#000" stroke-width="1.1" />
<text x="396.3" y="524.4" font-size="12" text-anchor="end" fill="#111" >0.0</text>
<text x="396.3" y="478.22" font-size="12" text-anchor="end" fill="#111" >0.5</text>
<text x="396.3" y="432.03" font-size="12" text-anchor="end" fill="#111" >1.0</text>
<text x="396.3" y="385.85" font-size="12" text-anchor="end" fill="#111" >1.5</text>
<text x="396.3" y="339.66" font-size="12" text-anchor="end" fill="#111" >2.0</text>
<line x1="468.38" y1="520.3" x2="468.38" y2="517.7" stroke="#000" stroke-width="1.1" />
<line x1="542.7" y1="520.3" x2="542.7" y2="517.7" stroke="#000" stroke-width="1.1" />
<line x1="617.02" y1="520.3" x2="617.02" y2="517.7" stroke="#000" stroke-width="1.1" />
<line x1="431.22" y1="520.3" x2="431.22" y2="518.6" stroke="#000" stroke-width="1.1" />
<line x1="505.54" y1="520.3" x2="505.54" y2="518.6" stroke="#000" stroke-width="1.1" />
<line x1="579.86" y1="520.3" x2="579.86" y2="518.6" stroke="#000" stroke-width="1.1" />
<line x1="654.18" y1="520.3" x2="654.18" y2="518.6" stroke="#000" stroke-width="1.1" />
<text x="469.08" y="535.7" font-size="12" text-anchor="middle" fill="#111" >–500</text>
<text x="542.7" y="535.7" font-size="12" text-anchor="middle" fill="#111" >0</text>
<text x="617.02" y="535.7" font-size="12" text-anchor="middle" fill="#111" >500</text>
<text x="542.9" y="553.3" font-size="12" text-anchor="middle" fill="#111" >Time (ns)</text>
<text transform="translate(368.7,409.1) rotate(-90)" font-size="12" text-anchor="middle" fill="#111" >Amplitude(a.u.)</text>
<rect x="467.6" y="298.7" width="215.85" height="87.95" fill="#fff" stroke="#000" stroke-width="1.3"/>
<polyline points="467.4,371.5 468.2,371.4 468.9,371.3 469.6,371.2 470.3,371.0 471.0,370.8 471.8,370.6 472.5,370.4 473.2,370.2 473.9,370.0 474.7,369.8 475.4,369.6 476.1,369.3 476.8,369.1 477.5,368.9 478.3,368.7 479.0,368.5 479.7,368.3 480.4,368.1 481.2,368.0 481.9,367.8 482.6,367.7 483.3,367.7 484.0,367.6 484.8,367.6 485.5,367.6 486.2,367.7 486.9,367.7 487.7,367.8 488.4,368.0 489.1,368.1 489.8,368.3 490.5,368.6 491.3,368.8 492.0,369.1 492.7,369.3 493.4,369.6 494.2,370.0 494.9,370.3 495.6,370.7 496.3,371.0 497.0,371.3 497.8,371.7 498.5,372.0 499.2,372.3 499.9,372.5 500.7,372.8 501.4,373.0 502.1,373.1 502.8,373.2 503.5,373.3 504.3,373.3 505.0,373.3 505.7,373.2 506.4,373.0 507.2,372.9 507.9,372.7 508.6,372.4 509.3,372.2 510.0,371.8 510.8,371.5 511.5,371.1 512.2,370.7 512.9,370.3 513.7,369.8 514.4,369.4 515.1,368.9 515.8,368.4 516.5,367.9 517.3,367.4 518.0,367.0 518.7,366.5 519.4,366.1 520.1,365.6 520.9,365.2 521.6,364.9 522.3,364.5 523.0,364.3 523.8,364.0 524.5,363.8 525.2,363.7 525.9,363.6 526.6,363.7 527.4,363.7 528.1,363.9 528.8,364.1 529.5,364.5 530.3,364.9 531.0,365.4 531.7,365.9 532.4,366.5 533.1,367.1 533.9,367.8 534.6,368.5 535.3,369.3 536.0,370.0 536.8,370.8 537.5,371.7 538.2,372.5 538.9,373.3 539.6,374.0 540.4,374.8 541.1,375.5 541.8,376.2 542.5,376.8 543.3,377.3 544.0,377.8 544.7,378.2 545.4,378.4 546.1,378.6 546.9,378.6 547.6,378.6 548.3,378.4 549.0,378.1 549.8,377.6 550.5,377.1 551.2,376.4 551.9,375.5 552.6,374.5 553.4,373.4 554.1,372.1 554.8,370.7 555.5,369.2 556.3,367.5 557.0,365.7 557.7,363.8 558.4,361.9 559.1,359.9 559.9,357.8 560.6,355.7 561.3,353.6 562.0,351.5 562.8,349.4 563.5,347.3 564.2,345.2 564.9,343.2 565.6,341.1 566.4,339.1 567.1,337.0 567.8,335.0 568.5,332.9 569.3,330.8 570.0,328.7 570.7,326.6 571.4,324.4 572.1,322.2 572.9,320.1 573.6,318.3 574.3,316.8 575.0,315.8 575.8,315.4 576.5,315.8 577.2,316.8 577.9,318.3 578.6,320.1 579.4,322.2 580.1,324.4 580.8,326.6 581.5,328.7 582.2,330.8 583.0,332.9 583.7,335.0 584.4,337.0 585.1,339.1 585.9,341.1 586.6,343.2 587.3,345.2 588.0,347.3 588.7,349.4 589.5,351.5 590.2,353.6 590.9,355.7 591.6,357.8 592.4,359.9 593.1,361.9 593.8,363.8 594.5,365.7 595.2,367.5 596.0,369.2 596.7,370.7 597.4,372.1 598.1,373.4 598.9,374.5 599.6,375.5 600.3,376.4 601.0,377.1 601.7,377.6 602.5,378.1 603.2,378.4 603.9,378.6 604.6,378.6 605.4,378.6 606.1,378.4 606.8,378.2 607.5,377.8 608.2,377.3 609.0,376.8 609.7,376.2 610.4,375.5 611.1,374.8 611.9,374.0 612.6,373.3 613.3,372.5 614.0,371.7 614.7,370.8 615.5,370.0 616.2,369.3 616.9,368.5 617.6,367.8 618.4,367.1 619.1,366.5 619.8,365.9 620.5,365.4 621.2,364.9 622.0,364.5 622.7,364.1 623.4,363.9 624.1,363.7 624.9,363.7 625.6,363.6 626.3,363.7 627.0,363.8 627.7,364.0 628.5,364.3 629.2,364.5 629.9,364.9 630.6,365.2 631.4,365.6 632.1,366.1 632.8,366.5 633.5,367.0 634.2,367.4 635.0,367.9 635.7,368.4 636.4,368.9 637.1,369.4 637.8,369.8 638.6,370.3 639.3,370.7 640.0,371.1 640.7,371.5 641.5,371.8 642.2,372.2 642.9,372.4 643.6,372.7 644.3,372.9 645.1,373.0 645.8,373.2 646.5,373.3 647.2,373.3 648.0,373.3 648.7,373.2 649.4,373.1 650.1,373.0 650.8,372.8 651.6,372.5 652.3,372.3 653.0,372.0 653.7,371.7 654.5,371.3 655.2,371.0 655.9,370.7 656.6,370.3 657.3,370.0 658.1,369.6 658.8,369.3 659.5,369.1 660.2,368.8 661.0,368.6 661.7,368.3 662.4,368.1 663.1,368.0 663.8,367.8 664.6,367.7 665.3,367.7 666.0,367.6 666.7,367.6 667.5,367.6 668.2,367.7 668.9,367.7 669.6,367.8 670.3,368.0 671.1,368.1 671.8,368.3 672.5,368.5 673.2,368.7 674.0,368.9 674.7,369.1 675.4,369.3 676.1,369.6 676.8,369.8 677.6,370.0 678.3,370.2 679.0,370.4 679.7,370.6 680.5,370.8 681.2,371.0 681.9,371.2 682.6,371.3 683.3,371.4 684.1,371.5" fill="none" stroke="#ff66b2" stroke-width="1.45" stroke-linejoin="round" />
<circle cx="467.4" cy="371.5" r="2.4" fill="#ff66b2"/><circle cx="467.4" cy="371.5" r="0.75" fill="#ffa8d4"/>
<circle cx="476.1" cy="369.3" r="2.4" fill="#ff66b2"/><circle cx="476.1" cy="369.3" r="0.75" fill="#ffa8d4"/>
<circle cx="484.8" cy="367.6" r="2.4" fill="#ff66b2"/><circle cx="484.8" cy="367.6" r="0.75" fill="#ffa8d4"/>
<circle cx="493.4" cy="369.6" r="2.4" fill="#ff66b2"/><circle cx="493.4" cy="369.6" r="0.75" fill="#ffa8d4"/>
<circle cx="502.1" cy="373.1" r="2.4" fill="#ff66b2"/><circle cx="502.1" cy="373.1" r="0.75" fill="#ffa8d4"/>
<circle cx="510.8" cy="371.5" r="2.4" fill="#ff66b2"/><circle cx="510.8" cy="371.5" r="0.75" fill="#ffa8d4"/>
<circle cx="519.4" cy="366.1" r="2.4" fill="#ff66b2"/><circle cx="519.4" cy="366.1" r="0.75" fill="#ffa8d4"/>
<circle cx="528.1" cy="363.9" r="2.4" fill="#ff66b2"/><circle cx="528.1" cy="363.9" r="0.75" fill="#ffa8d4"/>
<circle cx="536.8" cy="370.8" r="2.4" fill="#ff66b2"/><circle cx="536.8" cy="370.8" r="0.75" fill="#ffa8d4"/>
<circle cx="545.4" cy="378.4" r="2.4" fill="#ff66b2"/><circle cx="545.4" cy="378.4" r="0.75" fill="#ffa8d4"/>
<circle cx="554.1" cy="372.1" r="2.4" fill="#ff66b2"/><circle cx="554.1" cy="372.1" r="0.75" fill="#ffa8d4"/>
<circle cx="562.8" cy="349.4" r="2.4" fill="#ff66b2"/><circle cx="562.8" cy="349.4" r="0.75" fill="#ffa8d4"/>
<circle cx="571.4" cy="324.4" r="2.4" fill="#ff66b2"/><circle cx="571.4" cy="324.4" r="0.75" fill="#ffa8d4"/>
<circle cx="580.1" cy="324.4" r="2.4" fill="#ff66b2"/><circle cx="580.1" cy="324.4" r="0.75" fill="#ffa8d4"/>
<circle cx="588.7" cy="349.4" r="2.4" fill="#ff66b2"/><circle cx="588.7" cy="349.4" r="0.75" fill="#ffa8d4"/>
<circle cx="597.4" cy="372.1" r="2.4" fill="#ff66b2"/><circle cx="597.4" cy="372.1" r="0.75" fill="#ffa8d4"/>
<circle cx="606.1" cy="378.4" r="2.4" fill="#ff66b2"/><circle cx="606.1" cy="378.4" r="0.75" fill="#ffa8d4"/>
<circle cx="614.7" cy="370.8" r="2.4" fill="#ff66b2"/><circle cx="614.7" cy="370.8" r="0.75" fill="#ffa8d4"/>
<circle cx="623.4" cy="363.9" r="2.4" fill="#ff66b2"/><circle cx="623.4" cy="363.9" r="0.75" fill="#ffa8d4"/>
<circle cx="632.1" cy="366.1" r="2.4" fill="#ff66b2"/><circle cx="632.1" cy="366.1" r="0.75" fill="#ffa8d4"/>
<circle cx="640.7" cy="371.5" r="2.4" fill="#ff66b2"/><circle cx="640.7" cy="371.5" r="0.75" fill="#ffa8d4"/>
<circle cx="649.4" cy="373.1" r="2.4" fill="#ff66b2"/><circle cx="649.4" cy="373.1" r="0.75" fill="#ffa8d4"/>
<circle cx="658.1" cy="369.6" r="2.4" fill="#ff66b2"/><circle cx="658.1" cy="369.6" r="0.75" fill="#ffa8d4"/>
<circle cx="666.7" cy="367.6" r="2.4" fill="#ff66b2"/><circle cx="666.7" cy="367.6" r="0.75" fill="#ffa8d4"/>
<circle cx="675.4" cy="369.3" r="2.4" fill="#ff66b2"/><circle cx="675.4" cy="369.3" r="0.75" fill="#ffa8d4"/>
<circle cx="684.1" cy="371.5" r="2.4" fill="#ff66b2"/><circle cx="684.1" cy="371.5" r="0.75" fill="#ffa8d4"/>
<path d="M564.5,345.7 L587,345.7" stroke="#000" stroke-width="1.3"/>
<path d="M562.3,345.7 L568,343.3 L568,348.1 Z" fill="#000"/><path d="M589.2,345.7 L583.5,343.3 L583.5,348.1 Z" fill="#000"/>
<text x="576.8" y="359.8" font-size="10.5" text-anchor="middle" font-weight="bold" fill="#000" >5 ns</text>
<line x1="467.6" y1="380.5" x2="470" y2="380.5" stroke="#000" stroke-width="1.1" />
<line x1="467.6" y1="358.8" x2="470" y2="358.8" stroke="#000" stroke-width="1.1" />
<line x1="467.6" y1="337.1" x2="470" y2="337.1" stroke="#000" stroke-width="1.1" />
<line x1="467.6" y1="315.4" x2="470" y2="315.4" stroke="#000" stroke-width="1.1" />
<line x1="467.6" y1="369.65" x2="469.3" y2="369.65" stroke="#000" stroke-width="1.1" />
<line x1="467.6" y1="347.95" x2="469.3" y2="347.95" stroke="#000" stroke-width="1.1" />
<line x1="467.6" y1="326.25" x2="469.3" y2="326.25" stroke="#000" stroke-width="1.1" />
<line x1="467.6" y1="304.55" x2="469.3" y2="304.55" stroke="#000" stroke-width="1.1" />
<text x="462.2" y="384.5" font-size="10.5" text-anchor="end" fill="#111" >0.4</text>
<text x="462.2" y="362.8" font-size="10.5" text-anchor="end" fill="#111" >0.6</text>
<text x="462.2" y="341.1" font-size="10.5" text-anchor="end" fill="#111" >0.8</text>
<text x="462.2" y="319.4" font-size="10.5" text-anchor="end" fill="#111" >1.0</text>
<line x1="489.1" y1="386.65" x2="489.1" y2="384.25" stroke="#000" stroke-width="1.1" />
<line x1="532.42" y1="386.65" x2="532.42" y2="384.25" stroke="#000" stroke-width="1.1" />
<line x1="575.75" y1="386.65" x2="575.75" y2="384.25" stroke="#000" stroke-width="1.1" />
<line x1="619.08" y1="386.65" x2="619.08" y2="384.25" stroke="#000" stroke-width="1.1" />
<line x1="662.4" y1="386.65" x2="662.4" y2="384.25" stroke="#000" stroke-width="1.1" />
<line x1="510.76" y1="386.65" x2="510.76" y2="384.95" stroke="#000" stroke-width="1.1" />
<line x1="554.09" y1="386.65" x2="554.09" y2="384.95" stroke="#000" stroke-width="1.1" />
<line x1="597.41" y1="386.65" x2="597.41" y2="384.95" stroke="#000" stroke-width="1.1" />
<line x1="640.74" y1="386.65" x2="640.74" y2="384.95" stroke="#000" stroke-width="1.1" />
<text x="489.8" y="400.8" font-size="10.5" text-anchor="middle" fill="#111" >–20</text>
<text x="533.12" y="400.8" font-size="10.5" text-anchor="middle" fill="#111" >–10</text>
<text x="575.75" y="400.8" font-size="10.5" text-anchor="middle" fill="#111" >0</text>
<text x="619.08" y="400.8" font-size="10.5" text-anchor="middle" fill="#111" >10</text>
<text x="662.4" y="400.8" font-size="10.5" text-anchor="middle" fill="#111" >20</text>
<text x="575.9" y="415" font-size="10.5" text-anchor="middle" fill="#111" >Time (ns)</text>
<text transform="translate(438,342) rotate(-90)" font-size="10.5" text-anchor="middle" fill="#111" >Amp.(a.u.)</text>
</svg></body></html>
